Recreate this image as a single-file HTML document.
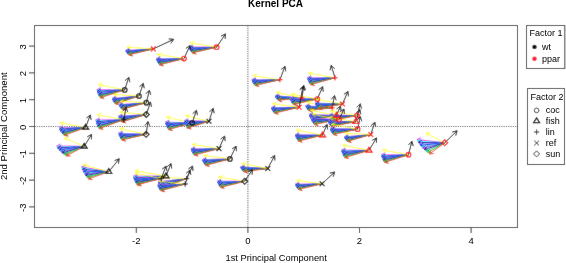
<!DOCTYPE html>
<html><head><meta charset="utf-8"><style>
html,body{margin:0;padding:0;background:#fff;}
svg{display:block;}
.t{font-family:"Liberation Sans",sans-serif;font-size:9px;fill:#000;}
.tk{font-family:"Liberation Sans",sans-serif;font-size:9.5px;fill:#000;}
.xl{font-family:"Liberation Sans",sans-serif;font-size:9.3px;fill:#000;}
.yl{font-family:"Liberation Sans",sans-serif;font-size:9.6px;fill:#000;}
.b{font-family:"Liberation Sans",sans-serif;font-size:10px;font-weight:bold;fill:#000;}
</style></head><body>
<svg width="566" height="263" viewBox="0 0 566 263"><defs><filter id="bl" x="0" y="0" width="566" height="263" filterUnits="userSpaceOnUse" primitiveUnits="userSpaceOnUse"><feConvolveMatrix order="3" kernelMatrix="1 2 1 2 36 2 1 2 1" preserveAlpha="false" edgeMode="none"/></filter><filter id="gs" x="0" y="0" width="566" height="263" filterUnits="userSpaceOnUse"><feOffset dx="0" dy="0"/></filter></defs><g filter="url(#bl)"><rect width="566" height="263" fill="#fff"/>
<path d="M34.5 126.5H517M247.9 25.5V227.5" stroke="#222" stroke-width="0.9" stroke-dasharray="1 1.3" fill="none"/>
<path d="M153.3 48.9L125.60 50.47M129.44 52.41L125.60 50.47L129.20 48.11" stroke="#ff00ff" stroke-width="0.85" fill="none"/>
<path d="M153.3 48.9L125.71 50.91M129.58 52.79L125.71 50.91L129.26 48.50" stroke="#00ffff" stroke-width="0.85" fill="none"/>
<path d="M153.3 48.9L125.90 51.36M129.80 53.16L125.90 51.36L129.41 48.88" stroke="#000080" stroke-width="0.85" fill="none"/>
<path d="M153.3 48.9L126.15 51.80M130.08 53.54L126.15 51.80L129.62 49.27" stroke="#9f7fff" stroke-width="0.85" fill="none"/>
<path d="M153.3 48.9L126.44 52.24M130.40 53.92L126.44 52.24L129.87 49.65" stroke="#0000ff" stroke-width="0.85" fill="none"/>
<path d="M153.3 48.9L126.78 52.69M130.77 54.29L126.78 52.69L130.16 50.03" stroke="#00cdcd" stroke-width="0.85" fill="none"/>
<path d="M153.3 48.9L127.14 53.13M131.16 54.66L127.14 53.13L130.48 50.41" stroke="#a020f0" stroke-width="0.85" fill="none"/>
<path d="M153.3 48.9L127.55 53.57M131.59 55.02L127.55 53.57L130.83 50.79" stroke="#00008b" stroke-width="0.85" fill="none"/>
<path d="M153.3 48.9L127.98 54.01M132.05 55.38L127.98 54.01L131.20 51.17" stroke="#20b2aa" stroke-width="0.85" fill="none"/>
<path d="M153.3 48.9L128.44 54.46M132.54 55.74L128.44 54.46L131.60 51.55" stroke="#00cd00" stroke-width="0.85" fill="none"/>
<path d="M153.3 48.9L128.92 54.90M133.05 56.10L128.92 54.90L132.03 51.92" stroke="#ff3030" stroke-width="0.85" fill="none"/>
<path d="M153.3 48.9L126.98 47.10M130.55 49.32L126.98 47.10L130.82 45.39" stroke="#ffff00" stroke-width="0.75" fill="none"/>
<path d="M184.0 58.6L156.20 58.62M159.93 60.77L156.20 58.62L159.92 56.47" stroke="#ff00ff" stroke-width="0.85" fill="none"/>
<path d="M184.0 58.6L156.31 59.25M160.08 61.31L156.31 59.25L159.98 57.01" stroke="#00ffff" stroke-width="0.85" fill="none"/>
<path d="M184.0 58.6L156.50 59.88M160.32 61.85L156.50 59.88L160.12 57.56" stroke="#000080" stroke-width="0.85" fill="none"/>
<path d="M184.0 58.6L156.75 60.51M160.61 62.39L156.75 60.51L160.31 58.10" stroke="#9f7fff" stroke-width="0.85" fill="none"/>
<path d="M184.0 58.6L157.04 61.13M160.95 62.93L157.04 61.13L160.55 58.64" stroke="#0000ff" stroke-width="0.85" fill="none"/>
<path d="M184.0 58.6L157.38 61.76M161.33 63.46L157.38 61.76L160.82 59.19" stroke="#00cdcd" stroke-width="0.85" fill="none"/>
<path d="M184.0 58.6L157.75 62.39M161.74 63.98L157.75 62.39L161.13 59.73" stroke="#a020f0" stroke-width="0.85" fill="none"/>
<path d="M184.0 58.6L158.15 63.02M162.19 64.51L158.15 63.02L161.46 60.27" stroke="#00008b" stroke-width="0.85" fill="none"/>
<path d="M184.0 58.6L158.59 63.64M162.66 65.03L158.59 63.64L161.82 60.81" stroke="#20b2aa" stroke-width="0.85" fill="none"/>
<path d="M184.0 58.6L159.05 64.27M163.16 65.54L159.05 64.27L162.20 61.35" stroke="#00cd00" stroke-width="0.85" fill="none"/>
<path d="M184.0 58.6L159.54 64.90M163.68 66.05L159.54 64.90L162.61 61.89" stroke="#ff3030" stroke-width="0.85" fill="none"/>
<path d="M184.0 58.6L157.59 54.30M160.93 56.84L157.59 54.30L161.57 52.95" stroke="#ffff00" stroke-width="0.75" fill="none"/>
<path d="M216.6 47.2L189.00 47.05M192.71 49.22L189.00 47.05L192.74 44.92" stroke="#ff00ff" stroke-width="0.85" fill="none"/>
<path d="M216.6 47.2L189.10 47.65M192.86 49.74L189.10 47.65L192.79 45.44" stroke="#00ffff" stroke-width="0.85" fill="none"/>
<path d="M216.6 47.2L189.30 48.24M193.10 50.25L189.30 48.24L192.94 45.95" stroke="#000080" stroke-width="0.85" fill="none"/>
<path d="M216.6 47.2L189.54 48.84M193.39 50.76L189.54 48.84L193.13 46.47" stroke="#9f7fff" stroke-width="0.85" fill="none"/>
<path d="M216.6 47.2L189.84 49.43M193.73 51.26L189.84 49.43L193.37 46.98" stroke="#0000ff" stroke-width="0.85" fill="none"/>
<path d="M216.6 47.2L190.17 50.03M194.10 51.77L190.17 50.03L193.65 47.49" stroke="#00cdcd" stroke-width="0.85" fill="none"/>
<path d="M216.6 47.2L190.54 50.62M194.51 52.27L190.54 50.62L193.95 48.00" stroke="#a020f0" stroke-width="0.85" fill="none"/>
<path d="M216.6 47.2L190.94 51.22M194.95 52.76L190.94 51.22L194.29 48.52" stroke="#00008b" stroke-width="0.85" fill="none"/>
<path d="M216.6 47.2L191.37 51.81M195.42 53.26L191.37 51.81L194.65 49.03" stroke="#20b2aa" stroke-width="0.85" fill="none"/>
<path d="M216.6 47.2L191.83 52.41M195.91 53.74L191.83 52.41L195.03 49.54" stroke="#00cd00" stroke-width="0.85" fill="none"/>
<path d="M216.6 47.2L192.31 53.00M196.43 54.23L192.31 53.00L195.43 50.04" stroke="#ff3030" stroke-width="0.85" fill="none"/>
<path d="M216.6 47.2L190.38 42.90M193.72 45.45L190.38 42.90L194.36 41.55" stroke="#ffff00" stroke-width="0.75" fill="none"/>
<path d="M279.9 79.7L251.80 79.68M255.52 81.84L251.80 79.68L255.53 77.54" stroke="#ff00ff" stroke-width="0.85" fill="none"/>
<path d="M279.9 79.7L251.91 80.27M255.67 82.34L251.91 80.27L255.59 78.04" stroke="#00ffff" stroke-width="0.85" fill="none"/>
<path d="M279.9 79.7L252.10 80.85M255.91 82.84L252.10 80.85L255.73 78.55" stroke="#000080" stroke-width="0.85" fill="none"/>
<path d="M279.9 79.7L252.35 81.43M256.21 83.34L252.35 81.43L255.94 79.05" stroke="#9f7fff" stroke-width="0.85" fill="none"/>
<path d="M279.9 79.7L252.65 82.01M256.55 83.84L252.65 82.01L256.18 79.55" stroke="#0000ff" stroke-width="0.85" fill="none"/>
<path d="M279.9 79.7L252.99 82.59M256.92 84.33L252.99 82.59L256.47 80.06" stroke="#00cdcd" stroke-width="0.85" fill="none"/>
<path d="M279.9 79.7L253.37 83.17M257.34 84.82L253.37 83.17L256.78 80.56" stroke="#a020f0" stroke-width="0.85" fill="none"/>
<path d="M279.9 79.7L253.77 83.76M257.78 85.31L253.77 83.76L257.12 81.06" stroke="#00008b" stroke-width="0.85" fill="none"/>
<path d="M279.9 79.7L254.21 84.34M258.26 85.79L254.21 84.34L257.50 81.56" stroke="#20b2aa" stroke-width="0.85" fill="none"/>
<path d="M279.9 79.7L254.68 84.92M258.76 86.27L254.68 84.92L257.89 82.06" stroke="#00cd00" stroke-width="0.85" fill="none"/>
<path d="M279.9 79.7L255.17 85.50M259.29 86.74L255.17 85.50L258.31 82.56" stroke="#ff3030" stroke-width="0.85" fill="none"/>
<path d="M279.9 79.7L253.21 75.60M256.57 78.11L253.21 75.60L257.17 74.21" stroke="#ffff00" stroke-width="0.75" fill="none"/>
<path d="M335.0 77.8L307.30 77.83M311.03 79.97L307.30 77.83L311.02 75.67" stroke="#ff00ff" stroke-width="0.85" fill="none"/>
<path d="M335.0 77.8L307.41 78.52M311.18 80.57L307.41 78.52L311.07 76.27" stroke="#00ffff" stroke-width="0.85" fill="none"/>
<path d="M335.0 77.8L307.60 79.20M311.43 81.16L307.60 79.20L311.21 76.86" stroke="#000080" stroke-width="0.85" fill="none"/>
<path d="M335.0 77.8L307.85 79.89M311.72 81.75L307.85 79.89L311.39 77.46" stroke="#9f7fff" stroke-width="0.85" fill="none"/>
<path d="M335.0 77.8L308.14 80.58M312.07 82.33L308.14 80.58L311.62 78.06" stroke="#0000ff" stroke-width="0.85" fill="none"/>
<path d="M335.0 77.8L308.48 81.26M312.45 82.91L308.48 81.26L311.89 78.65" stroke="#00cdcd" stroke-width="0.85" fill="none"/>
<path d="M335.0 77.8L308.84 81.95M312.86 83.49L308.84 81.95L312.19 79.24" stroke="#a020f0" stroke-width="0.85" fill="none"/>
<path d="M335.0 77.8L309.25 82.64M313.30 84.06L309.25 82.64L312.51 79.84" stroke="#00008b" stroke-width="0.85" fill="none"/>
<path d="M335.0 77.8L309.68 83.33M313.78 84.63L309.68 83.33L312.86 80.43" stroke="#20b2aa" stroke-width="0.85" fill="none"/>
<path d="M335.0 77.8L310.14 84.01M314.27 85.20L310.14 84.01L313.23 81.02" stroke="#00cd00" stroke-width="0.85" fill="none"/>
<path d="M335.0 77.8L310.62 84.70M314.79 85.75L310.62 84.70L313.62 81.62" stroke="#ff3030" stroke-width="0.85" fill="none"/>
<path d="M335.0 77.8L308.69 73.20M312.00 75.78L308.69 73.20L312.68 71.90" stroke="#ffff00" stroke-width="0.75" fill="none"/>
<path d="M302.0 98.0L275.00 95.74M278.53 98.19L275.00 95.74L278.89 93.91" stroke="#ff00ff" stroke-width="0.85" fill="none"/>
<path d="M302.0 98.0L275.10 96.19M278.67 98.59L275.10 96.19L278.96 94.30" stroke="#00ffff" stroke-width="0.85" fill="none"/>
<path d="M302.0 98.0L275.29 96.65M278.90 98.99L275.29 96.65L279.12 94.69" stroke="#000080" stroke-width="0.85" fill="none"/>
<path d="M302.0 98.0L275.53 97.11M279.18 99.38L275.53 97.11L279.33 95.08" stroke="#9f7fff" stroke-width="0.85" fill="none"/>
<path d="M302.0 98.0L275.82 97.56M279.51 99.77L275.82 97.56L279.58 95.48" stroke="#0000ff" stroke-width="0.85" fill="none"/>
<path d="M302.0 98.0L276.15 98.02M279.87 100.17L276.15 98.02L279.87 95.87" stroke="#00cdcd" stroke-width="0.85" fill="none"/>
<path d="M302.0 98.0L276.51 98.48M280.27 100.56L276.51 98.48L280.19 96.26" stroke="#a020f0" stroke-width="0.85" fill="none"/>
<path d="M302.0 98.0L276.90 98.93M280.70 100.94L276.90 98.93L280.54 96.64" stroke="#00008b" stroke-width="0.85" fill="none"/>
<path d="M302.0 98.0L277.32 99.39M281.16 101.33L277.32 99.39L280.92 97.03" stroke="#20b2aa" stroke-width="0.85" fill="none"/>
<path d="M302.0 98.0L277.77 99.84M281.64 101.71L277.77 99.84L281.32 97.42" stroke="#00cd00" stroke-width="0.85" fill="none"/>
<path d="M302.0 98.0L278.24 100.30M282.15 102.08L278.24 100.30L281.74 97.80" stroke="#ff3030" stroke-width="0.85" fill="none"/>
<path d="M302.0 98.0L276.35 92.30M279.54 95.03L276.35 92.30L280.40 91.18" stroke="#ffff00" stroke-width="0.75" fill="none"/>
<path d="M299.2 107.2L271.20 107.65M274.96 109.74L271.20 107.65L274.89 105.44" stroke="#ff00ff" stroke-width="0.85" fill="none"/>
<path d="M299.2 107.2L271.31 108.20M275.11 110.22L271.31 108.20L274.95 105.92" stroke="#00ffff" stroke-width="0.85" fill="none"/>
<path d="M299.2 107.2L271.50 108.76M275.34 110.70L271.50 108.76L275.10 106.40" stroke="#000080" stroke-width="0.85" fill="none"/>
<path d="M299.2 107.2L271.75 109.31M275.63 111.17L271.75 109.31L275.30 106.88" stroke="#9f7fff" stroke-width="0.85" fill="none"/>
<path d="M299.2 107.2L272.05 109.87M275.97 111.64L272.05 109.87L275.55 107.36" stroke="#0000ff" stroke-width="0.85" fill="none"/>
<path d="M299.2 107.2L272.39 110.42M276.34 112.11L272.39 110.42L275.83 107.84" stroke="#00cdcd" stroke-width="0.85" fill="none"/>
<path d="M299.2 107.2L272.76 110.98M276.75 112.58L272.76 110.98L276.14 108.32" stroke="#a020f0" stroke-width="0.85" fill="none"/>
<path d="M299.2 107.2L273.17 111.53M277.19 113.04L273.17 111.53L276.49 108.80" stroke="#00008b" stroke-width="0.85" fill="none"/>
<path d="M299.2 107.2L273.60 112.09M277.67 113.50L273.60 112.09L276.86 109.28" stroke="#20b2aa" stroke-width="0.85" fill="none"/>
<path d="M299.2 107.2L274.07 112.64M278.16 113.96L274.07 112.64L277.25 109.76" stroke="#00cd00" stroke-width="0.85" fill="none"/>
<path d="M299.2 107.2L274.56 113.20M278.69 114.41L274.56 113.20L277.67 110.23" stroke="#ff3030" stroke-width="0.85" fill="none"/>
<path d="M299.2 107.2L272.60 103.70M276.02 106.14L272.60 103.70L276.53 102.23" stroke="#ffff00" stroke-width="0.75" fill="none"/>
<path d="M317.3 99.0L290.00 98.42M293.68 100.65L290.00 98.42L293.77 96.35" stroke="#ff00ff" stroke-width="0.85" fill="none"/>
<path d="M317.3 99.0L290.10 99.03M293.83 101.17L290.10 99.03L293.83 96.87" stroke="#00ffff" stroke-width="0.85" fill="none"/>
<path d="M317.3 99.0L290.29 99.64M294.07 101.70L290.29 99.64L293.97 97.40" stroke="#000080" stroke-width="0.85" fill="none"/>
<path d="M317.3 99.0L290.54 100.24M294.36 102.22L290.54 100.24L294.16 97.92" stroke="#9f7fff" stroke-width="0.85" fill="none"/>
<path d="M317.3 99.0L290.83 100.85M294.69 102.74L290.83 100.85L294.39 98.45" stroke="#0000ff" stroke-width="0.85" fill="none"/>
<path d="M317.3 99.0L291.16 101.46M295.07 103.25L291.16 101.46L294.66 98.97" stroke="#00cdcd" stroke-width="0.85" fill="none"/>
<path d="M317.3 99.0L291.52 102.07M295.47 103.76L291.52 102.07L294.97 99.49" stroke="#a020f0" stroke-width="0.85" fill="none"/>
<path d="M317.3 99.0L291.92 102.68M295.91 104.27L291.92 102.68L295.30 100.01" stroke="#00008b" stroke-width="0.85" fill="none"/>
<path d="M317.3 99.0L292.34 103.28M296.38 104.77L292.34 103.28L295.65 100.53" stroke="#20b2aa" stroke-width="0.85" fill="none"/>
<path d="M317.3 99.0L292.80 103.89M296.87 105.27L292.80 103.89L296.03 101.05" stroke="#00cd00" stroke-width="0.85" fill="none"/>
<path d="M317.3 99.0L293.28 104.50M297.39 105.76L293.28 104.50L296.43 101.57" stroke="#ff3030" stroke-width="0.85" fill="none"/>
<path d="M317.3 99.0L291.37 94.20M294.65 96.81L291.37 94.20L295.37 92.94" stroke="#ffff00" stroke-width="0.75" fill="none"/>
<path d="M332.2 107.8L305.60 105.74M309.15 108.17L305.60 105.74L309.48 103.88" stroke="#ff00ff" stroke-width="0.85" fill="none"/>
<path d="M332.2 107.8L305.70 106.22M309.29 108.58L305.70 106.22L309.55 104.29" stroke="#00ffff" stroke-width="0.85" fill="none"/>
<path d="M332.2 107.8L305.89 106.69M309.52 109.00L305.89 106.69L309.70 104.70" stroke="#000080" stroke-width="0.85" fill="none"/>
<path d="M332.2 107.8L306.12 107.17M309.80 109.41L306.12 107.17L309.90 105.11" stroke="#9f7fff" stroke-width="0.85" fill="none"/>
<path d="M332.2 107.8L306.41 107.64M310.12 109.82L306.41 107.64L310.14 105.52" stroke="#0000ff" stroke-width="0.85" fill="none"/>
<path d="M332.2 107.8L306.73 108.12M310.48 110.22L306.73 108.12L310.43 105.92" stroke="#00cdcd" stroke-width="0.85" fill="none"/>
<path d="M332.2 107.8L307.08 108.60M310.87 110.63L307.08 108.60L310.74 106.33" stroke="#a020f0" stroke-width="0.85" fill="none"/>
<path d="M332.2 107.8L307.47 109.07M311.30 111.03L307.47 109.07L311.08 106.73" stroke="#00008b" stroke-width="0.85" fill="none"/>
<path d="M332.2 107.8L307.88 109.55M311.75 111.43L307.88 109.55L311.44 107.14" stroke="#20b2aa" stroke-width="0.85" fill="none"/>
<path d="M332.2 107.8L308.33 110.02M312.23 111.82L308.33 110.02L311.83 107.54" stroke="#00cd00" stroke-width="0.85" fill="none"/>
<path d="M332.2 107.8L308.79 110.50M312.74 112.21L308.79 110.50L312.25 107.94" stroke="#ff3030" stroke-width="0.85" fill="none"/>
<path d="M332.2 107.8L306.93 102.20M310.12 104.93L306.93 102.20L310.98 101.08" stroke="#ffff00" stroke-width="0.75" fill="none"/>
<path d="M342.5 104.0L315.00 103.08M318.65 105.35L315.00 103.08L318.79 101.06" stroke="#ff00ff" stroke-width="0.85" fill="none"/>
<path d="M342.5 104.0L315.10 103.62M318.80 105.82L315.10 103.62L318.86 101.52" stroke="#00ffff" stroke-width="0.85" fill="none"/>
<path d="M342.5 104.0L315.30 104.16M319.03 106.29L315.30 104.16L319.01 101.99" stroke="#000080" stroke-width="0.85" fill="none"/>
<path d="M342.5 104.0L315.54 104.71M319.32 106.76L315.54 104.71L319.21 102.46" stroke="#9f7fff" stroke-width="0.85" fill="none"/>
<path d="M342.5 104.0L315.83 105.25M319.66 107.22L315.83 105.25L319.45 102.93" stroke="#0000ff" stroke-width="0.85" fill="none"/>
<path d="M342.5 104.0L316.17 105.79M320.03 107.68L316.17 105.79L319.74 103.39" stroke="#00cdcd" stroke-width="0.85" fill="none"/>
<path d="M342.5 104.0L316.53 106.33M320.43 108.14L316.53 106.33L320.05 103.86" stroke="#a020f0" stroke-width="0.85" fill="none"/>
<path d="M342.5 104.0L316.93 106.87M320.87 108.59L316.93 106.87L320.39 104.32" stroke="#00008b" stroke-width="0.85" fill="none"/>
<path d="M342.5 104.0L317.36 107.42M321.34 109.05L317.36 107.42L320.76 104.78" stroke="#20b2aa" stroke-width="0.85" fill="none"/>
<path d="M342.5 104.0L317.82 107.96M321.83 109.49L317.82 107.96L321.15 105.25" stroke="#00cd00" stroke-width="0.85" fill="none"/>
<path d="M342.5 104.0L318.30 108.50M322.35 109.93L318.30 108.50L321.57 105.71" stroke="#ff3030" stroke-width="0.85" fill="none"/>
<path d="M342.5 104.0L316.38 99.20M319.67 101.81L316.38 99.20L320.38 97.93" stroke="#ffff00" stroke-width="0.75" fill="none"/>
<path d="M336.5 115.5L309.00 114.42M312.64 116.71L309.00 114.42L312.81 112.42" stroke="#ff00ff" stroke-width="0.85" fill="none"/>
<path d="M336.5 115.5L309.10 115.03M312.79 117.24L309.10 115.03L312.86 112.94" stroke="#00ffff" stroke-width="0.85" fill="none"/>
<path d="M336.5 115.5L309.30 115.64M313.03 117.77L309.30 115.64L313.01 113.47" stroke="#000080" stroke-width="0.85" fill="none"/>
<path d="M336.5 115.5L309.54 116.24M313.32 118.29L309.54 116.24L313.21 113.99" stroke="#9f7fff" stroke-width="0.85" fill="none"/>
<path d="M336.5 115.5L309.83 116.85M313.66 118.81L309.83 116.85L313.45 114.52" stroke="#0000ff" stroke-width="0.85" fill="none"/>
<path d="M336.5 115.5L310.17 117.46M314.04 119.33L310.17 117.46L313.72 115.04" stroke="#00cdcd" stroke-width="0.85" fill="none"/>
<path d="M336.5 115.5L310.53 118.07M314.45 119.84L310.53 118.07L314.03 115.56" stroke="#a020f0" stroke-width="0.85" fill="none"/>
<path d="M336.5 115.5L310.93 118.68M314.89 120.35L310.93 118.68L314.36 116.08" stroke="#00008b" stroke-width="0.85" fill="none"/>
<path d="M336.5 115.5L311.36 119.28M315.36 120.86L311.36 119.28L314.72 116.60" stroke="#20b2aa" stroke-width="0.85" fill="none"/>
<path d="M336.5 115.5L311.82 119.89M315.86 121.36L311.82 119.89L315.11 117.12" stroke="#00cd00" stroke-width="0.85" fill="none"/>
<path d="M336.5 115.5L312.30 120.50M316.38 121.85L312.30 120.50L315.51 117.64" stroke="#ff3030" stroke-width="0.85" fill="none"/>
<path d="M336.5 115.5L310.38 110.20M313.62 112.87L310.38 110.20L314.40 109.00" stroke="#ffff00" stroke-width="0.75" fill="none"/>
<path d="M339.0 119.5L311.00 118.42M314.64 120.71L311.00 118.42L314.80 116.42" stroke="#ff00ff" stroke-width="0.85" fill="none"/>
<path d="M339.0 119.5L311.11 119.03M314.79 121.24L311.11 119.03L314.87 116.94" stroke="#00ffff" stroke-width="0.85" fill="none"/>
<path d="M339.0 119.5L311.30 119.64M315.03 121.77L311.30 119.64L315.01 117.47" stroke="#000080" stroke-width="0.85" fill="none"/>
<path d="M339.0 119.5L311.55 120.24M315.33 122.29L311.55 120.24L315.22 117.99" stroke="#9f7fff" stroke-width="0.85" fill="none"/>
<path d="M339.0 119.5L311.85 120.85M315.68 122.81L311.85 120.85L315.46 118.52" stroke="#0000ff" stroke-width="0.85" fill="none"/>
<path d="M339.0 119.5L312.19 121.46M316.06 123.33L312.19 121.46L315.75 119.04" stroke="#00cdcd" stroke-width="0.85" fill="none"/>
<path d="M339.0 119.5L312.56 122.07M316.48 123.85L312.56 122.07L316.06 119.57" stroke="#a020f0" stroke-width="0.85" fill="none"/>
<path d="M339.0 119.5L312.97 122.68M316.92 124.36L312.97 122.68L316.40 120.09" stroke="#00008b" stroke-width="0.85" fill="none"/>
<path d="M339.0 119.5L313.40 123.28M317.40 124.87L313.40 123.28L316.77 120.61" stroke="#20b2aa" stroke-width="0.85" fill="none"/>
<path d="M339.0 119.5L313.87 123.89M317.91 125.37L313.87 123.89L317.17 121.13" stroke="#00cd00" stroke-width="0.85" fill="none"/>
<path d="M339.0 119.5L314.36 124.50M318.44 125.87L314.36 124.50L317.58 121.65" stroke="#ff3030" stroke-width="0.85" fill="none"/>
<path d="M339.0 119.5L312.40 114.20M315.65 116.86L312.40 114.20L316.42 112.99" stroke="#ffff00" stroke-width="0.75" fill="none"/>
<path d="M357.0 115.5L329.00 115.08M332.69 117.29L329.00 115.08L332.76 112.99" stroke="#ff00ff" stroke-width="0.85" fill="none"/>
<path d="M357.0 115.5L329.11 115.62M332.84 117.76L329.11 115.62L332.82 113.46" stroke="#00ffff" stroke-width="0.85" fill="none"/>
<path d="M357.0 115.5L329.30 116.16M333.07 118.22L329.30 116.16L332.97 113.93" stroke="#000080" stroke-width="0.85" fill="none"/>
<path d="M357.0 115.5L329.55 116.71M333.37 118.69L329.55 116.71L333.18 114.39" stroke="#9f7fff" stroke-width="0.85" fill="none"/>
<path d="M357.0 115.5L329.85 117.25M333.70 119.15L329.85 117.25L333.43 114.86" stroke="#0000ff" stroke-width="0.85" fill="none"/>
<path d="M357.0 115.5L330.19 117.79M334.08 119.62L330.19 117.79L333.72 115.33" stroke="#00cdcd" stroke-width="0.85" fill="none"/>
<path d="M357.0 115.5L330.56 118.33M334.49 120.07L330.56 118.33L334.04 115.80" stroke="#a020f0" stroke-width="0.85" fill="none"/>
<path d="M357.0 115.5L330.97 118.87M334.94 120.53L330.97 118.87L334.38 116.26" stroke="#00008b" stroke-width="0.85" fill="none"/>
<path d="M357.0 115.5L331.40 119.42M335.41 120.98L331.40 119.42L334.76 116.73" stroke="#20b2aa" stroke-width="0.85" fill="none"/>
<path d="M357.0 115.5L331.87 119.96M335.91 121.42L331.87 119.96L335.16 117.19" stroke="#00cd00" stroke-width="0.85" fill="none"/>
<path d="M357.0 115.5L332.36 120.50M336.44 121.87L332.36 120.50L335.58 117.65" stroke="#ff3030" stroke-width="0.85" fill="none"/>
<path d="M357.0 115.5L330.40 111.20M333.75 113.74L330.40 111.20L334.38 109.85" stroke="#ffff00" stroke-width="0.75" fill="none"/>
<path d="M355.6 121.7L328.00 121.08M331.67 123.31L328.00 121.08L331.77 119.01" stroke="#ff00ff" stroke-width="0.85" fill="none"/>
<path d="M355.6 121.7L328.10 121.62M331.82 123.78L328.10 121.62L331.83 119.48" stroke="#00ffff" stroke-width="0.85" fill="none"/>
<path d="M355.6 121.7L328.30 122.16M332.06 124.25L328.30 122.16L331.98 119.95" stroke="#000080" stroke-width="0.85" fill="none"/>
<path d="M355.6 121.7L328.54 122.71M332.35 124.72L328.54 122.71L332.19 120.42" stroke="#9f7fff" stroke-width="0.85" fill="none"/>
<path d="M355.6 121.7L328.84 123.25M332.68 125.18L328.84 123.25L332.43 120.89" stroke="#0000ff" stroke-width="0.85" fill="none"/>
<path d="M355.6 121.7L329.17 123.79M333.05 125.64L329.17 123.79L332.71 121.35" stroke="#00cdcd" stroke-width="0.85" fill="none"/>
<path d="M355.6 121.7L329.54 124.33M333.46 126.10L329.54 124.33L333.03 121.82" stroke="#a020f0" stroke-width="0.85" fill="none"/>
<path d="M355.6 121.7L329.94 124.87M333.90 126.55L329.94 124.87L333.37 122.28" stroke="#00008b" stroke-width="0.85" fill="none"/>
<path d="M355.6 121.7L330.37 125.42M334.37 127.00L330.37 125.42L333.74 122.75" stroke="#20b2aa" stroke-width="0.85" fill="none"/>
<path d="M355.6 121.7L330.83 125.96M334.86 127.45L330.83 125.96L334.13 123.21" stroke="#00cd00" stroke-width="0.85" fill="none"/>
<path d="M355.6 121.7L331.31 126.50M335.38 127.89L331.31 126.50L334.55 123.67" stroke="#ff3030" stroke-width="0.85" fill="none"/>
<path d="M355.6 121.7L329.38 117.20M332.70 119.77L329.38 117.20L333.37 115.88" stroke="#ffff00" stroke-width="0.75" fill="none"/>
<path d="M357.6 129.2L330.00 128.42M333.66 130.67L330.00 128.42L333.78 126.38" stroke="#ff00ff" stroke-width="0.85" fill="none"/>
<path d="M357.6 129.2L330.10 129.03M333.82 131.20L330.10 129.03L333.84 126.90" stroke="#00ffff" stroke-width="0.85" fill="none"/>
<path d="M357.6 129.2L330.30 129.64M334.05 131.73L330.30 129.64L333.99 127.43" stroke="#000080" stroke-width="0.85" fill="none"/>
<path d="M357.6 129.2L330.54 130.24M334.35 132.25L330.54 130.24L334.18 127.95" stroke="#9f7fff" stroke-width="0.85" fill="none"/>
<path d="M357.6 129.2L330.84 130.85M334.69 132.77L330.84 130.85L334.42 128.48" stroke="#0000ff" stroke-width="0.85" fill="none"/>
<path d="M357.6 129.2L331.17 131.46M335.06 133.28L331.17 131.46L334.70 129.00" stroke="#00cdcd" stroke-width="0.85" fill="none"/>
<path d="M357.6 129.2L331.54 132.07M335.48 133.80L331.54 132.07L335.01 129.52" stroke="#a020f0" stroke-width="0.85" fill="none"/>
<path d="M357.6 129.2L331.94 132.68M335.92 134.31L331.94 132.68L335.34 130.05" stroke="#00008b" stroke-width="0.85" fill="none"/>
<path d="M357.6 129.2L332.37 133.28M336.39 134.81L332.37 133.28L335.70 130.57" stroke="#20b2aa" stroke-width="0.85" fill="none"/>
<path d="M357.6 129.2L332.83 133.89M336.89 135.31L332.83 133.89L336.09 131.09" stroke="#00cd00" stroke-width="0.85" fill="none"/>
<path d="M357.6 129.2L333.31 134.50M337.41 135.81L333.31 134.50L336.49 131.61" stroke="#ff3030" stroke-width="0.85" fill="none"/>
<path d="M357.6 129.2L331.38 124.20M334.65 126.83L331.38 124.20L335.39 122.96" stroke="#ffff00" stroke-width="0.75" fill="none"/>
<path d="M322.5 135.1L295.10 134.66M298.79 136.87L295.10 134.66L298.86 132.57" stroke="#ff00ff" stroke-width="0.85" fill="none"/>
<path d="M322.5 135.1L295.20 135.31M298.94 137.43L295.20 135.31L298.91 133.13" stroke="#00ffff" stroke-width="0.85" fill="none"/>
<path d="M322.5 135.1L295.39 135.97M299.18 138.00L295.39 135.97L299.05 133.70" stroke="#000080" stroke-width="0.85" fill="none"/>
<path d="M322.5 135.1L295.64 136.62M299.48 138.56L295.64 136.62L299.24 134.26" stroke="#9f7fff" stroke-width="0.85" fill="none"/>
<path d="M322.5 135.1L295.93 137.27M299.82 139.11L295.93 137.27L299.47 134.83" stroke="#0000ff" stroke-width="0.85" fill="none"/>
<path d="M322.5 135.1L296.26 137.93M300.20 139.67L296.26 137.93L299.73 135.39" stroke="#00cdcd" stroke-width="0.85" fill="none"/>
<path d="M322.5 135.1L296.63 138.58M300.61 140.22L296.63 138.58L300.03 135.96" stroke="#a020f0" stroke-width="0.85" fill="none"/>
<path d="M322.5 135.1L297.03 139.24M301.05 140.76L297.03 139.24L300.36 136.52" stroke="#00008b" stroke-width="0.85" fill="none"/>
<path d="M322.5 135.1L297.45 139.89M301.51 141.30L297.45 139.89L300.71 137.08" stroke="#20b2aa" stroke-width="0.85" fill="none"/>
<path d="M322.5 135.1L297.91 140.55M302.01 141.84L297.91 140.55L301.08 137.64" stroke="#00cd00" stroke-width="0.85" fill="none"/>
<path d="M322.5 135.1L298.39 141.20M302.53 142.37L298.39 141.20L301.47 138.20" stroke="#ff3030" stroke-width="0.85" fill="none"/>
<path d="M322.5 135.1L296.47 130.20M299.75 132.82L296.47 130.20L300.48 128.95" stroke="#ffff00" stroke-width="0.75" fill="none"/>
<path d="M370.8 134.5L344.30 136.87M348.20 138.68L344.30 136.87L347.82 134.40" stroke="#ff00ff" stroke-width="0.85" fill="none"/>
<path d="M370.8 134.5L344.40 137.33M348.33 139.07L344.40 137.33L347.87 134.80" stroke="#00ffff" stroke-width="0.85" fill="none"/>
<path d="M370.8 134.5L344.58 137.80M348.55 139.47L344.58 137.80L348.01 135.20" stroke="#000080" stroke-width="0.85" fill="none"/>
<path d="M370.8 134.5L344.82 138.26M348.82 139.85L344.82 138.26L348.20 135.60" stroke="#9f7fff" stroke-width="0.85" fill="none"/>
<path d="M370.8 134.5L345.10 138.72M349.13 140.24L345.10 138.72L348.43 136.00" stroke="#0000ff" stroke-width="0.85" fill="none"/>
<path d="M370.8 134.5L345.42 139.19M349.48 140.62L345.42 139.19L348.70 136.40" stroke="#00cdcd" stroke-width="0.85" fill="none"/>
<path d="M370.8 134.5L345.78 139.65M349.86 141.00L345.78 139.65L348.99 136.79" stroke="#a020f0" stroke-width="0.85" fill="none"/>
<path d="M370.8 134.5L346.16 140.11M350.27 141.38L346.16 140.11L349.32 137.19" stroke="#00008b" stroke-width="0.85" fill="none"/>
<path d="M370.8 134.5L346.58 140.57M350.71 141.75L346.58 140.57L349.66 137.58" stroke="#20b2aa" stroke-width="0.85" fill="none"/>
<path d="M370.8 134.5L347.02 141.04M351.18 142.12L347.02 141.04L350.04 137.98" stroke="#00cd00" stroke-width="0.85" fill="none"/>
<path d="M370.8 134.5L347.48 141.50M351.66 142.49L347.48 141.50L350.43 138.37" stroke="#ff3030" stroke-width="0.85" fill="none"/>
<path d="M370.8 134.5L345.62 133.40M349.24 135.53L345.62 133.40L349.42 131.59" stroke="#ffff00" stroke-width="0.75" fill="none"/>
<path d="M369.0 150.3L341.40 150.17M345.11 152.34L341.40 150.17L345.13 148.04" stroke="#ff00ff" stroke-width="0.85" fill="none"/>
<path d="M369.0 150.3L341.50 150.92M345.28 152.99L341.50 150.92L345.18 148.69" stroke="#00ffff" stroke-width="0.85" fill="none"/>
<path d="M369.0 150.3L341.70 151.67M345.52 153.63L341.70 151.67L345.31 149.34" stroke="#000080" stroke-width="0.85" fill="none"/>
<path d="M369.0 150.3L341.94 152.43M345.83 154.28L341.94 152.43L345.49 149.99" stroke="#9f7fff" stroke-width="0.85" fill="none"/>
<path d="M369.0 150.3L342.24 153.18M346.17 154.92L342.24 153.18L345.71 150.64" stroke="#0000ff" stroke-width="0.85" fill="none"/>
<path d="M369.0 150.3L342.57 153.93M346.55 155.56L342.57 153.93L345.97 151.30" stroke="#00cdcd" stroke-width="0.85" fill="none"/>
<path d="M369.0 150.3L342.94 154.69M346.97 156.19L342.94 154.69L346.25 151.95" stroke="#a020f0" stroke-width="0.85" fill="none"/>
<path d="M369.0 150.3L343.34 155.44M347.41 156.82L343.34 155.44L346.57 152.60" stroke="#00008b" stroke-width="0.85" fill="none"/>
<path d="M369.0 150.3L343.77 156.19M347.89 157.44L343.77 156.19L346.91 153.25" stroke="#20b2aa" stroke-width="0.85" fill="none"/>
<path d="M369.0 150.3L344.23 156.95M348.38 158.06L344.23 156.95L347.27 153.91" stroke="#00cd00" stroke-width="0.85" fill="none"/>
<path d="M369.0 150.3L344.71 157.70M348.90 158.67L344.71 157.70L347.65 154.56" stroke="#ff3030" stroke-width="0.85" fill="none"/>
<path d="M369.0 150.3L342.78 145.20M346.04 147.84L342.78 145.20L346.80 143.97" stroke="#ffff00" stroke-width="0.75" fill="none"/>
<path d="M408.5 154.7L381.30 154.97M385.04 157.08L381.30 154.97L385.00 152.78" stroke="#ff00ff" stroke-width="0.85" fill="none"/>
<path d="M408.5 154.7L381.40 155.72M385.21 157.73L381.40 155.72L385.04 153.43" stroke="#00ffff" stroke-width="0.85" fill="none"/>
<path d="M408.5 154.7L381.59 156.47M385.45 158.37L381.59 156.47L385.17 154.08" stroke="#000080" stroke-width="0.85" fill="none"/>
<path d="M408.5 154.7L381.84 157.23M385.75 159.02L381.84 157.23L385.34 154.74" stroke="#9f7fff" stroke-width="0.85" fill="none"/>
<path d="M408.5 154.7L382.13 157.98M386.09 159.65L382.13 157.98L385.56 155.39" stroke="#0000ff" stroke-width="0.85" fill="none"/>
<path d="M408.5 154.7L382.45 158.73M386.46 160.29L382.45 158.73L385.80 156.04" stroke="#00cdcd" stroke-width="0.85" fill="none"/>
<path d="M408.5 154.7L382.82 159.49M386.87 160.92L382.82 159.49L386.08 156.69" stroke="#a020f0" stroke-width="0.85" fill="none"/>
<path d="M408.5 154.7L383.21 160.24M387.31 161.54L383.21 160.24L386.39 157.34" stroke="#00008b" stroke-width="0.85" fill="none"/>
<path d="M408.5 154.7L383.64 160.99M387.77 162.16L383.64 160.99L386.72 158.00" stroke="#20b2aa" stroke-width="0.85" fill="none"/>
<path d="M408.5 154.7L384.09 161.75M388.26 162.78L384.09 161.75L387.07 158.65" stroke="#00cd00" stroke-width="0.85" fill="none"/>
<path d="M408.5 154.7L384.56 162.50M388.77 163.39L384.56 162.50L387.44 159.30" stroke="#ff3030" stroke-width="0.85" fill="none"/>
<path d="M408.5 154.7L382.66 150.00M385.96 152.60L382.66 150.00L386.66 148.72" stroke="#ffff00" stroke-width="0.75" fill="none"/>
<path d="M444.7 142.8L417.00 139.50M420.44 142.08L417.00 139.50L420.95 137.81" stroke="#ff00ff" stroke-width="0.85" fill="none"/>
<path d="M444.7 142.8L417.39 140.95M420.96 143.35L417.39 140.95L421.25 139.06" stroke="#00ffff" stroke-width="0.85" fill="none"/>
<path d="M444.7 142.8L418.11 142.40M421.81 144.61L418.11 142.40L421.87 140.31" stroke="#000080" stroke-width="0.85" fill="none"/>
<path d="M444.7 142.8L419.05 143.85M422.86 145.85L419.05 143.85L422.68 141.55" stroke="#9f7fff" stroke-width="0.85" fill="none"/>
<path d="M444.7 142.8L420.15 145.30M424.08 147.06L420.15 145.30L423.64 142.78" stroke="#0000ff" stroke-width="0.85" fill="none"/>
<path d="M444.7 142.8L421.41 146.75M425.44 148.25L421.41 146.75L424.72 144.01" stroke="#00cdcd" stroke-width="0.85" fill="none"/>
<path d="M444.7 142.8L422.79 148.20M426.92 149.40L422.79 148.20L425.89 145.22" stroke="#a020f0" stroke-width="0.85" fill="none"/>
<path d="M444.7 142.8L424.30 149.65M428.51 150.50L424.30 149.65L427.15 146.43" stroke="#00008b" stroke-width="0.85" fill="none"/>
<path d="M444.7 142.8L425.92 151.10M430.19 151.56L425.92 151.10L428.46 147.63" stroke="#20b2aa" stroke-width="0.85" fill="none"/>
<path d="M444.7 142.8L427.64 152.55M431.94 152.57L427.64 152.55L429.81 148.84" stroke="#00cd00" stroke-width="0.85" fill="none"/>
<path d="M444.7 142.8L429.46 154.00M433.74 153.53L429.46 154.00L431.19 150.06" stroke="#ff3030" stroke-width="0.85" fill="none"/>
<path d="M444.7 142.8L426.00 133.00M428.37 136.47L426.00 133.00L430.20 132.97" stroke="#ffff00" stroke-width="0.75" fill="none"/>
<path d="M124.7 89.9L96.80 89.81M100.52 91.97L96.80 89.81L100.53 87.67" stroke="#ff00ff" stroke-width="0.85" fill="none"/>
<path d="M124.7 89.9L96.91 90.61M100.68 92.66L96.91 90.61L100.57 88.36" stroke="#00ffff" stroke-width="0.85" fill="none"/>
<path d="M124.7 89.9L97.10 91.40M100.93 93.35L97.10 91.40L100.70 89.06" stroke="#000080" stroke-width="0.85" fill="none"/>
<path d="M124.7 89.9L97.35 92.20M101.24 94.03L97.35 92.20L100.88 89.75" stroke="#9f7fff" stroke-width="0.85" fill="none"/>
<path d="M124.7 89.9L97.65 93.00M101.59 94.72L97.65 93.00L101.10 90.44" stroke="#0000ff" stroke-width="0.85" fill="none"/>
<path d="M124.7 89.9L97.98 93.80M101.98 95.39L97.98 93.80L101.36 91.14" stroke="#00cdcd" stroke-width="0.85" fill="none"/>
<path d="M124.7 89.9L98.36 94.60M102.40 96.06L98.36 94.60L101.64 91.83" stroke="#a020f0" stroke-width="0.85" fill="none"/>
<path d="M124.7 89.9L98.76 95.40M102.85 96.73L98.76 95.40L101.96 92.53" stroke="#00008b" stroke-width="0.85" fill="none"/>
<path d="M124.7 89.9L99.20 96.20M103.33 97.40L99.20 96.20L102.30 93.22" stroke="#20b2aa" stroke-width="0.85" fill="none"/>
<path d="M124.7 89.9L99.66 97.00M103.83 98.05L99.66 97.00L102.65 93.92" stroke="#00cd00" stroke-width="0.85" fill="none"/>
<path d="M124.7 89.9L100.15 97.80M104.35 98.71L100.15 97.80L103.03 94.61" stroke="#ff3030" stroke-width="0.85" fill="none"/>
<path d="M124.7 89.9L98.19 84.60M101.44 87.26L98.19 84.60L102.22 83.39" stroke="#ffff00" stroke-width="0.75" fill="none"/>
<path d="M139.0 96.0L112.10 98.41M116.00 100.22L112.10 98.41L115.62 95.94" stroke="#ff00ff" stroke-width="0.85" fill="none"/>
<path d="M139.0 96.0L112.20 98.96M116.14 100.69L112.20 98.96L115.67 96.42" stroke="#00ffff" stroke-width="0.85" fill="none"/>
<path d="M139.0 96.0L112.39 99.51M116.36 101.16L112.39 99.51L115.80 96.89" stroke="#000080" stroke-width="0.85" fill="none"/>
<path d="M139.0 96.0L112.63 100.06M116.64 101.62L112.63 100.06L115.98 97.37" stroke="#9f7fff" stroke-width="0.85" fill="none"/>
<path d="M139.0 96.0L112.92 100.61M116.96 102.08L112.92 100.61L116.21 97.84" stroke="#0000ff" stroke-width="0.85" fill="none"/>
<path d="M139.0 96.0L113.24 101.16M117.31 102.53L113.24 101.16L116.47 98.32" stroke="#00cdcd" stroke-width="0.85" fill="none"/>
<path d="M139.0 96.0L113.60 101.71M117.70 102.99L113.60 101.71L116.76 98.79" stroke="#a020f0" stroke-width="0.85" fill="none"/>
<path d="M139.0 96.0L113.99 102.25M118.12 103.44L113.99 102.25L117.08 99.27" stroke="#00008b" stroke-width="0.85" fill="none"/>
<path d="M139.0 96.0L114.41 102.80M118.57 103.88L114.41 102.80L117.43 99.74" stroke="#20b2aa" stroke-width="0.85" fill="none"/>
<path d="M139.0 96.0L114.86 103.35M119.04 104.32L114.86 103.35L117.79 100.21" stroke="#00cd00" stroke-width="0.85" fill="none"/>
<path d="M139.0 96.0L115.33 103.90M119.54 104.76L115.33 103.90L118.18 100.68" stroke="#ff3030" stroke-width="0.85" fill="none"/>
<path d="M139.0 96.0L113.44 94.50M117.03 96.69L113.44 94.50L117.26 92.75" stroke="#ffff00" stroke-width="0.75" fill="none"/>
<path d="M146.3 102.7L118.90 104.67M122.77 106.55L118.90 104.67L122.46 102.26" stroke="#ff00ff" stroke-width="0.85" fill="none"/>
<path d="M146.3 102.7L119.00 105.13M122.90 106.95L119.00 105.13L122.52 102.66" stroke="#00ffff" stroke-width="0.85" fill="none"/>
<path d="M146.3 102.7L119.19 105.60M123.13 107.34L119.19 105.60L122.67 103.06" stroke="#000080" stroke-width="0.85" fill="none"/>
<path d="M146.3 102.7L119.44 106.06M123.40 107.73L119.44 106.06L122.87 103.46" stroke="#9f7fff" stroke-width="0.85" fill="none"/>
<path d="M146.3 102.7L119.73 106.52M123.72 108.12L119.73 106.52L123.11 103.86" stroke="#0000ff" stroke-width="0.85" fill="none"/>
<path d="M146.3 102.7L120.06 106.99M124.08 108.51L120.06 106.99L123.39 104.26" stroke="#00cdcd" stroke-width="0.85" fill="none"/>
<path d="M146.3 102.7L120.43 107.45M124.48 108.89L120.43 107.45L123.70 104.66" stroke="#a020f0" stroke-width="0.85" fill="none"/>
<path d="M146.3 102.7L120.83 107.91M124.90 109.27L120.83 107.91L124.04 105.06" stroke="#00008b" stroke-width="0.85" fill="none"/>
<path d="M146.3 102.7L121.25 108.37M125.36 109.65L121.25 108.37L124.41 105.45" stroke="#20b2aa" stroke-width="0.85" fill="none"/>
<path d="M146.3 102.7L121.71 108.84M125.84 110.02L121.71 108.84L124.80 105.85" stroke="#00cd00" stroke-width="0.85" fill="none"/>
<path d="M146.3 102.7L122.19 109.30M126.35 110.39L122.19 109.30L125.21 106.24" stroke="#ff3030" stroke-width="0.85" fill="none"/>
<path d="M146.3 102.7L120.27 101.20M123.86 103.38L120.27 101.20L124.09 99.44" stroke="#ffff00" stroke-width="0.75" fill="none"/>
<path d="M146.3 114.5L118.50 116.25M122.35 118.16L118.50 116.25L122.08 113.87" stroke="#ff00ff" stroke-width="0.85" fill="none"/>
<path d="M146.3 114.5L118.61 116.83M122.50 118.66L118.61 116.83L122.14 114.37" stroke="#00ffff" stroke-width="0.85" fill="none"/>
<path d="M146.3 114.5L118.80 117.40M122.73 119.15L118.80 117.40L122.28 114.87" stroke="#000080" stroke-width="0.85" fill="none"/>
<path d="M146.3 114.5L119.05 117.97M123.01 119.64L119.05 117.97L122.47 115.37" stroke="#9f7fff" stroke-width="0.85" fill="none"/>
<path d="M146.3 114.5L119.34 118.55M123.35 120.12L119.34 118.55L122.71 115.87" stroke="#0000ff" stroke-width="0.85" fill="none"/>
<path d="M146.3 114.5L119.68 119.12M123.72 120.61L119.68 119.12L122.98 116.37" stroke="#00cdcd" stroke-width="0.85" fill="none"/>
<path d="M146.3 114.5L120.05 119.70M124.12 121.09L120.05 119.70L123.29 116.87" stroke="#a020f0" stroke-width="0.85" fill="none"/>
<path d="M146.3 114.5L120.45 120.28M124.56 121.56L120.45 120.28L123.62 117.36" stroke="#00008b" stroke-width="0.85" fill="none"/>
<path d="M146.3 114.5L120.89 120.85M125.02 122.03L120.89 120.85L123.98 117.86" stroke="#20b2aa" stroke-width="0.85" fill="none"/>
<path d="M146.3 114.5L121.35 121.42M125.51 122.50L121.35 121.42L124.36 118.36" stroke="#00cd00" stroke-width="0.85" fill="none"/>
<path d="M146.3 114.5L121.84 122.00M126.03 122.96L121.84 122.00L124.77 118.85" stroke="#ff3030" stroke-width="0.85" fill="none"/>
<path d="M146.3 114.5L119.89 112.20M123.41 114.49L119.89 112.20L123.76 110.56" stroke="#ffff00" stroke-width="0.75" fill="none"/>
<path d="M123.8 119.7L95.70 120.11M99.46 122.21L95.70 120.11L99.39 117.91" stroke="#ff00ff" stroke-width="0.85" fill="none"/>
<path d="M123.8 119.7L95.81 120.97M99.62 122.95L95.81 120.97L99.43 118.65" stroke="#00ffff" stroke-width="0.85" fill="none"/>
<path d="M123.8 119.7L96.00 121.83M99.88 123.69L96.00 121.83L99.55 119.40" stroke="#000080" stroke-width="0.85" fill="none"/>
<path d="M123.8 119.7L96.25 122.69M100.19 124.42L96.25 122.69L99.72 120.15" stroke="#9f7fff" stroke-width="0.85" fill="none"/>
<path d="M123.8 119.7L96.55 123.55M100.54 125.16L96.55 123.55L99.94 120.90" stroke="#0000ff" stroke-width="0.85" fill="none"/>
<path d="M123.8 119.7L96.89 124.41M100.93 125.88L96.89 124.41L100.19 121.65" stroke="#00cdcd" stroke-width="0.85" fill="none"/>
<path d="M123.8 119.7L97.27 125.26M101.35 126.60L97.27 125.26L100.47 122.40" stroke="#a020f0" stroke-width="0.85" fill="none"/>
<path d="M123.8 119.7L97.67 126.12M101.80 127.32L97.67 126.12L100.78 123.15" stroke="#00008b" stroke-width="0.85" fill="none"/>
<path d="M123.8 119.7L98.11 126.98M102.28 128.04L98.11 126.98L101.11 123.90" stroke="#20b2aa" stroke-width="0.85" fill="none"/>
<path d="M123.8 119.7L98.58 127.84M102.78 128.74L98.58 127.84L101.46 124.65" stroke="#00cd00" stroke-width="0.85" fill="none"/>
<path d="M123.8 119.7L99.07 128.70M103.31 129.45L99.07 128.70L101.84 125.41" stroke="#ff3030" stroke-width="0.85" fill="none"/>
<path d="M123.8 119.7L97.11 114.60M100.38 117.23L97.11 114.60L101.12 113.36" stroke="#ffff00" stroke-width="0.75" fill="none"/>
<path d="M146.1 134.3L118.50 133.16M122.13 135.46L118.50 133.16L122.31 131.17" stroke="#ff00ff" stroke-width="0.85" fill="none"/>
<path d="M146.1 134.3L118.60 133.86M122.29 136.07L118.60 133.86L122.36 131.77" stroke="#00ffff" stroke-width="0.85" fill="none"/>
<path d="M146.1 134.3L118.80 134.55M122.54 136.67L118.80 134.55L122.50 132.37" stroke="#000080" stroke-width="0.85" fill="none"/>
<path d="M146.1 134.3L119.04 135.24M122.84 137.26L119.04 135.24L122.69 132.96" stroke="#9f7fff" stroke-width="0.85" fill="none"/>
<path d="M146.1 134.3L119.34 135.94M123.19 137.86L119.34 135.94L122.92 133.56" stroke="#0000ff" stroke-width="0.85" fill="none"/>
<path d="M146.1 134.3L119.67 136.63M123.57 138.45L119.67 136.63L123.19 134.16" stroke="#00cdcd" stroke-width="0.85" fill="none"/>
<path d="M146.1 134.3L120.04 137.32M123.99 139.03L120.04 137.32L123.49 134.76" stroke="#a020f0" stroke-width="0.85" fill="none"/>
<path d="M146.1 134.3L120.44 138.02M124.43 139.61L120.44 138.02L123.82 135.36" stroke="#00008b" stroke-width="0.85" fill="none"/>
<path d="M146.1 134.3L120.87 138.71M124.91 140.19L120.87 138.71L124.17 135.95" stroke="#20b2aa" stroke-width="0.85" fill="none"/>
<path d="M146.1 134.3L121.33 139.41M125.41 140.76L121.33 139.41L124.54 136.55" stroke="#00cd00" stroke-width="0.85" fill="none"/>
<path d="M146.1 134.3L121.81 140.10M125.93 141.33L121.81 140.10L124.93 137.14" stroke="#ff3030" stroke-width="0.85" fill="none"/>
<path d="M146.1 134.3L119.88 128.50M123.07 131.23L119.88 128.50L123.93 127.38" stroke="#ffff00" stroke-width="0.75" fill="none"/>
<path d="M85.6 127.4L59.00 127.90M62.76 129.98L59.00 127.90L62.68 125.68" stroke="#ff00ff" stroke-width="0.85" fill="none"/>
<path d="M85.6 127.4L59.17 128.66M62.99 130.63L59.17 128.66L62.79 126.34" stroke="#00ffff" stroke-width="0.85" fill="none"/>
<path d="M85.6 127.4L59.48 129.42M63.35 131.28L59.48 129.42L63.02 126.99" stroke="#000080" stroke-width="0.85" fill="none"/>
<path d="M85.6 127.4L59.87 130.18M63.81 131.92L59.87 130.18L63.35 127.64" stroke="#9f7fff" stroke-width="0.85" fill="none"/>
<path d="M85.6 127.4L60.35 130.94M64.33 132.55L60.35 130.94L63.74 128.29" stroke="#0000ff" stroke-width="0.85" fill="none"/>
<path d="M85.6 127.4L60.88 131.70M64.92 133.18L60.88 131.70L64.18 128.94" stroke="#00cdcd" stroke-width="0.85" fill="none"/>
<path d="M85.6 127.4L61.47 132.46M65.56 133.80L61.47 132.46L64.68 129.59" stroke="#a020f0" stroke-width="0.85" fill="none"/>
<path d="M85.6 127.4L62.12 133.22M66.25 134.41L62.12 133.22L65.21 130.24" stroke="#00008b" stroke-width="0.85" fill="none"/>
<path d="M85.6 127.4L62.81 133.98M66.98 135.01L62.81 133.98L65.79 130.88" stroke="#20b2aa" stroke-width="0.85" fill="none"/>
<path d="M85.6 127.4L63.54 134.74M67.75 135.60L63.54 134.74L66.40 131.52" stroke="#00cd00" stroke-width="0.85" fill="none"/>
<path d="M85.6 127.4L64.32 135.50M68.57 136.18L64.32 135.50L67.04 132.17" stroke="#ff3030" stroke-width="0.85" fill="none"/>
<path d="M85.6 127.4L60.33 122.90M63.64 125.49L60.33 122.90L64.33 121.61" stroke="#ffff00" stroke-width="0.75" fill="none"/>
<path d="M84.2 146.4L56.70 146.00M60.39 148.20L56.70 146.00L60.45 143.90" stroke="#ff00ff" stroke-width="0.85" fill="none"/>
<path d="M84.2 146.4L57.00 147.00M60.77 149.07L57.00 147.00L60.68 144.77" stroke="#00ffff" stroke-width="0.85" fill="none"/>
<path d="M84.2 146.4L57.56 148.00M61.41 149.92L57.56 148.00L61.15 145.63" stroke="#000080" stroke-width="0.85" fill="none"/>
<path d="M84.2 146.4L58.28 149.00M62.20 150.77L58.28 149.00L61.77 146.49" stroke="#9f7fff" stroke-width="0.85" fill="none"/>
<path d="M84.2 146.4L59.13 150.00M63.13 151.60L59.13 150.00L62.52 147.34" stroke="#0000ff" stroke-width="0.85" fill="none"/>
<path d="M84.2 146.4L60.10 151.00M64.16 152.41L60.10 151.00L63.36 148.19" stroke="#00cdcd" stroke-width="0.85" fill="none"/>
<path d="M84.2 146.4L61.17 152.00M65.30 153.21L61.17 152.00L64.28 149.03" stroke="#a020f0" stroke-width="0.85" fill="none"/>
<path d="M84.2 146.4L62.34 153.00M66.52 153.98L62.34 153.00L65.28 149.87" stroke="#00008b" stroke-width="0.85" fill="none"/>
<path d="M84.2 146.4L63.59 154.00M67.82 154.73L63.59 154.00L66.34 150.69" stroke="#20b2aa" stroke-width="0.85" fill="none"/>
<path d="M84.2 146.4L64.92 155.00M69.19 155.45L64.92 155.00L67.44 151.52" stroke="#00cd00" stroke-width="0.85" fill="none"/>
<path d="M84.2 146.4L66.33 156.00M70.62 156.13L66.33 156.00L68.59 152.34" stroke="#ff3030" stroke-width="0.85" fill="none"/>
<path d="M84.2 146.4L64.50 138.00M67.14 141.27L64.50 138.00L68.68 137.64" stroke="#ffff00" stroke-width="0.75" fill="none"/>
<path d="M108.8 171.7L81.60 167.00M84.90 169.75L81.60 167.00L85.64 165.52" stroke="#ff00ff" stroke-width="0.85" fill="none"/>
<path d="M108.8 171.7L81.82 168.20M85.23 170.81L81.82 168.20L85.78 166.55" stroke="#00ffff" stroke-width="0.85" fill="none"/>
<path d="M108.8 171.7L82.21 169.40M85.73 171.86L82.21 169.40L86.10 167.58" stroke="#000080" stroke-width="0.85" fill="none"/>
<path d="M108.8 171.7L82.72 170.60M86.35 172.91L82.72 170.60L86.53 168.61" stroke="#9f7fff" stroke-width="0.85" fill="none"/>
<path d="M108.8 171.7L83.32 171.80M87.05 173.94L83.32 171.80L87.04 169.64" stroke="#0000ff" stroke-width="0.85" fill="none"/>
<path d="M108.8 171.7L84.00 173.00M87.84 174.95L84.00 173.00L87.61 170.66" stroke="#00cdcd" stroke-width="0.85" fill="none"/>
<path d="M108.8 171.7L84.76 174.20M88.69 175.95L84.76 174.20L88.24 171.68" stroke="#a020f0" stroke-width="0.85" fill="none"/>
<path d="M108.8 171.7L85.58 175.40M89.60 176.94L85.58 175.40L88.92 172.69" stroke="#00008b" stroke-width="0.85" fill="none"/>
<path d="M108.8 171.7L86.47 176.60M90.56 177.90L86.47 176.60L89.64 173.70" stroke="#20b2aa" stroke-width="0.85" fill="none"/>
<path d="M108.8 171.7L87.41 177.80M91.58 178.85L87.41 177.80L90.40 174.71" stroke="#00cd00" stroke-width="0.85" fill="none"/>
<path d="M108.8 171.7L88.40 179.00M92.63 179.77L88.40 179.00L91.18 175.72" stroke="#ff3030" stroke-width="0.85" fill="none"/>
<path d="M108.8 171.7L82.96 164.70M86.02 167.57L82.96 164.70L87.05 163.77" stroke="#ffff00" stroke-width="0.75" fill="none"/>
<path d="M192.2 122.8L165.30 122.17M168.97 124.40L165.30 122.17L169.07 120.11" stroke="#ff00ff" stroke-width="0.85" fill="none"/>
<path d="M192.2 122.8L165.40 122.92M169.14 125.05L165.40 122.92L169.12 120.75" stroke="#00ffff" stroke-width="0.85" fill="none"/>
<path d="M192.2 122.8L165.59 123.67M169.38 125.70L165.59 123.67L169.24 121.40" stroke="#000080" stroke-width="0.85" fill="none"/>
<path d="M192.2 122.8L165.83 124.43M169.68 126.34L165.83 124.43L169.41 122.05" stroke="#9f7fff" stroke-width="0.85" fill="none"/>
<path d="M192.2 122.8L166.12 125.18M170.02 126.98L166.12 125.18L169.63 122.70" stroke="#0000ff" stroke-width="0.85" fill="none"/>
<path d="M192.2 122.8L166.44 125.93M170.40 127.62L166.44 125.93L169.88 123.35" stroke="#00cdcd" stroke-width="0.85" fill="none"/>
<path d="M192.2 122.8L166.80 126.69M170.81 128.25L166.80 126.69L170.16 124.00" stroke="#a020f0" stroke-width="0.85" fill="none"/>
<path d="M192.2 122.8L167.19 127.44M171.24 128.87L167.19 127.44L170.46 124.65" stroke="#00008b" stroke-width="0.85" fill="none"/>
<path d="M192.2 122.8L167.61 128.19M171.71 129.50L167.61 128.19L170.79 125.30" stroke="#20b2aa" stroke-width="0.85" fill="none"/>
<path d="M192.2 122.8L168.06 128.95M172.20 130.11L168.06 128.95L171.13 125.94" stroke="#00cd00" stroke-width="0.85" fill="none"/>
<path d="M192.2 122.8L168.53 129.70M172.70 130.72L168.53 129.70L171.50 126.59" stroke="#ff3030" stroke-width="0.85" fill="none"/>
<path d="M192.2 122.8L166.65 117.20M169.85 119.92L166.65 117.20L170.69 116.07" stroke="#ffff00" stroke-width="0.75" fill="none"/>
<path d="M209.0 121.3L184.30 120.60M187.96 122.86L184.30 120.60L188.08 118.56" stroke="#ff00ff" stroke-width="0.85" fill="none"/>
<path d="M209.0 121.3L184.39 121.36M188.12 123.50L184.39 121.36L188.11 119.20" stroke="#00ffff" stroke-width="0.85" fill="none"/>
<path d="M209.0 121.3L184.57 122.12M188.36 124.15L184.57 122.12L188.21 119.85" stroke="#000080" stroke-width="0.85" fill="none"/>
<path d="M209.0 121.3L184.79 122.88M188.64 124.78L184.79 122.88L188.36 120.49" stroke="#9f7fff" stroke-width="0.85" fill="none"/>
<path d="M209.0 121.3L185.05 123.64M188.97 125.42L185.05 123.64L188.55 121.14" stroke="#0000ff" stroke-width="0.85" fill="none"/>
<path d="M209.0 121.3L185.35 124.40M189.32 126.05L185.35 124.40L188.76 121.79" stroke="#00cdcd" stroke-width="0.85" fill="none"/>
<path d="M209.0 121.3L185.68 125.16M189.70 126.67L185.68 125.16L189.00 122.43" stroke="#a020f0" stroke-width="0.85" fill="none"/>
<path d="M209.0 121.3L186.04 125.92M190.11 127.29L186.04 125.92L189.26 123.08" stroke="#00008b" stroke-width="0.85" fill="none"/>
<path d="M209.0 121.3L186.42 126.68M190.54 127.91L186.42 126.68L189.54 123.73" stroke="#20b2aa" stroke-width="0.85" fill="none"/>
<path d="M209.0 121.3L186.83 127.44M190.99 128.52L186.83 127.44L189.85 124.37" stroke="#00cd00" stroke-width="0.85" fill="none"/>
<path d="M209.0 121.3L187.26 128.20M191.46 129.12L187.26 128.20L190.16 125.02" stroke="#ff3030" stroke-width="0.85" fill="none"/>
<path d="M209.0 121.3L185.54 115.60M188.67 118.39L185.54 115.60L189.60 114.56" stroke="#ffff00" stroke-width="0.75" fill="none"/>
<path d="M219.0 148.6L190.90 148.82M194.64 150.94L190.90 148.82L194.61 146.64" stroke="#ff00ff" stroke-width="0.85" fill="none"/>
<path d="M219.0 148.6L191.01 149.45M194.79 151.49L191.01 149.45L194.66 147.19" stroke="#00ffff" stroke-width="0.85" fill="none"/>
<path d="M219.0 148.6L191.20 150.08M195.03 152.03L191.20 150.08L194.81 147.73" stroke="#000080" stroke-width="0.85" fill="none"/>
<path d="M219.0 148.6L191.45 150.71M195.33 152.57L191.45 150.71L195.00 148.28" stroke="#9f7fff" stroke-width="0.85" fill="none"/>
<path d="M219.0 148.6L191.75 151.33M195.67 153.10L191.75 151.33L195.24 148.82" stroke="#0000ff" stroke-width="0.85" fill="none"/>
<path d="M219.0 148.6L192.09 151.96M196.05 153.63L192.09 151.96L195.52 149.37" stroke="#00cdcd" stroke-width="0.85" fill="none"/>
<path d="M219.0 148.6L192.47 152.59M196.47 154.16L192.47 152.59L195.83 149.91" stroke="#a020f0" stroke-width="0.85" fill="none"/>
<path d="M219.0 148.6L192.87 153.22M196.92 154.69L192.87 153.22L196.17 150.45" stroke="#00008b" stroke-width="0.85" fill="none"/>
<path d="M219.0 148.6L193.31 153.84M197.39 155.21L193.31 153.84L196.53 150.99" stroke="#20b2aa" stroke-width="0.85" fill="none"/>
<path d="M219.0 148.6L193.78 154.47M197.89 155.72L193.78 154.47L196.92 151.53" stroke="#00cd00" stroke-width="0.85" fill="none"/>
<path d="M219.0 148.6L194.27 155.10M198.42 156.23L194.27 155.10L197.33 152.07" stroke="#ff3030" stroke-width="0.85" fill="none"/>
<path d="M219.0 148.6L192.31 144.50M195.67 147.01L192.31 144.50L196.27 143.11" stroke="#ffff00" stroke-width="0.75" fill="none"/>
<path d="M229.9 158.9L202.30 159.62M206.08 161.67L202.30 159.62L205.97 157.37" stroke="#ff00ff" stroke-width="0.85" fill="none"/>
<path d="M229.9 158.9L202.40 160.21M206.23 162.18L202.40 160.21L206.02 157.88" stroke="#00ffff" stroke-width="0.85" fill="none"/>
<path d="M229.9 158.9L202.60 160.79M206.46 162.68L202.60 160.79L206.16 158.39" stroke="#000080" stroke-width="0.85" fill="none"/>
<path d="M229.9 158.9L202.84 161.38M206.75 163.18L202.84 161.38L206.36 158.90" stroke="#9f7fff" stroke-width="0.85" fill="none"/>
<path d="M229.9 158.9L203.14 161.97M207.08 163.68L203.14 161.97L206.59 159.41" stroke="#0000ff" stroke-width="0.85" fill="none"/>
<path d="M229.9 158.9L203.47 162.56M207.45 164.18L203.47 162.56L206.86 159.92" stroke="#00cdcd" stroke-width="0.85" fill="none"/>
<path d="M229.9 158.9L203.84 163.15M207.86 164.67L203.84 163.15L207.17 160.43" stroke="#a020f0" stroke-width="0.85" fill="none"/>
<path d="M229.9 158.9L204.24 163.74M208.30 165.16L204.24 163.74L207.50 160.93" stroke="#00008b" stroke-width="0.85" fill="none"/>
<path d="M229.9 158.9L204.67 164.32M208.76 165.64L204.67 164.32L207.86 161.44" stroke="#20b2aa" stroke-width="0.85" fill="none"/>
<path d="M229.9 158.9L205.13 164.91M209.25 166.12L205.13 164.91L208.24 161.94" stroke="#00cd00" stroke-width="0.85" fill="none"/>
<path d="M229.9 158.9L205.61 165.50M209.77 166.60L205.61 165.50L208.64 162.45" stroke="#ff3030" stroke-width="0.85" fill="none"/>
<path d="M229.9 158.9L203.68 155.50M207.10 157.93L203.68 155.50L207.61 154.02" stroke="#ffff00" stroke-width="0.75" fill="none"/>
<path d="M267.8 168.5L240.50 166.97M244.10 169.33L240.50 166.97L244.34 165.03" stroke="#ff00ff" stroke-width="0.85" fill="none"/>
<path d="M267.8 168.5L240.60 167.43M244.24 169.73L240.60 167.43L244.41 165.43" stroke="#00ffff" stroke-width="0.85" fill="none"/>
<path d="M267.8 168.5L240.79 167.90M244.47 170.13L240.79 167.90L244.56 165.83" stroke="#000080" stroke-width="0.85" fill="none"/>
<path d="M267.8 168.5L241.04 168.36M244.75 170.53L241.04 168.36L244.77 166.23" stroke="#9f7fff" stroke-width="0.85" fill="none"/>
<path d="M267.8 168.5L241.33 168.82M245.08 170.93L241.33 168.82L245.03 166.63" stroke="#0000ff" stroke-width="0.85" fill="none"/>
<path d="M267.8 168.5L241.66 169.29M245.45 171.32L241.66 169.29L245.32 167.03" stroke="#00cdcd" stroke-width="0.85" fill="none"/>
<path d="M267.8 168.5L242.02 169.75M245.85 171.72L242.02 169.75L245.64 167.42" stroke="#a020f0" stroke-width="0.85" fill="none"/>
<path d="M267.8 168.5L242.42 170.21M246.28 172.11L242.42 170.21L245.99 167.82" stroke="#00008b" stroke-width="0.85" fill="none"/>
<path d="M267.8 168.5L242.84 170.67M246.74 172.49L242.84 170.67L246.37 168.21" stroke="#20b2aa" stroke-width="0.85" fill="none"/>
<path d="M267.8 168.5L243.30 171.14M247.23 172.88L243.30 171.14L246.77 168.60" stroke="#00cd00" stroke-width="0.85" fill="none"/>
<path d="M267.8 168.5L243.78 171.60M247.74 173.26L243.78 171.60L247.19 168.99" stroke="#ff3030" stroke-width="0.85" fill="none"/>
<path d="M267.8 168.5L241.87 163.50M245.13 166.14L241.87 163.50L245.88 162.27" stroke="#ffff00" stroke-width="0.75" fill="none"/>
<path d="M244.7 181.3L217.20 181.22M220.92 183.38L217.20 181.22L220.93 179.08" stroke="#ff00ff" stroke-width="0.85" fill="none"/>
<path d="M244.7 181.3L217.30 181.85M221.07 183.92L217.30 181.85L220.98 179.63" stroke="#00ffff" stroke-width="0.85" fill="none"/>
<path d="M244.7 181.3L217.50 182.48M221.31 184.46L217.50 182.48L221.12 180.17" stroke="#000080" stroke-width="0.85" fill="none"/>
<path d="M244.7 181.3L217.74 183.11M221.60 185.00L217.74 183.11L221.31 180.71" stroke="#9f7fff" stroke-width="0.85" fill="none"/>
<path d="M244.7 181.3L218.03 183.73M221.94 185.54L218.03 183.73L221.55 181.25" stroke="#0000ff" stroke-width="0.85" fill="none"/>
<path d="M244.7 181.3L218.37 184.36M222.31 186.07L218.37 184.36L221.82 181.80" stroke="#00cdcd" stroke-width="0.85" fill="none"/>
<path d="M244.7 181.3L218.73 184.99M222.72 186.59L218.73 184.99L222.12 182.34" stroke="#a020f0" stroke-width="0.85" fill="none"/>
<path d="M244.7 181.3L219.13 185.62M223.16 187.12L219.13 185.62L222.45 182.88" stroke="#00008b" stroke-width="0.85" fill="none"/>
<path d="M244.7 181.3L219.56 186.24M223.63 187.64L219.56 186.24L222.80 183.42" stroke="#20b2aa" stroke-width="0.85" fill="none"/>
<path d="M244.7 181.3L220.02 186.87M224.12 188.15L220.02 186.87L223.18 183.95" stroke="#00cd00" stroke-width="0.85" fill="none"/>
<path d="M244.7 181.3L220.50 187.50M224.64 188.66L220.50 187.50L223.57 184.49" stroke="#ff3030" stroke-width="0.85" fill="none"/>
<path d="M244.7 181.3L218.57 176.90M221.90 179.46L218.57 176.90L222.56 175.57" stroke="#ffff00" stroke-width="0.75" fill="none"/>
<path d="M322.1 183.7L295.20 184.28M298.97 186.35L295.20 184.28L298.88 182.05" stroke="#ff00ff" stroke-width="0.85" fill="none"/>
<path d="M322.1 183.7L295.30 184.80M299.11 186.80L295.30 184.80L298.93 182.50" stroke="#00ffff" stroke-width="0.85" fill="none"/>
<path d="M322.1 183.7L295.49 185.32M299.34 187.24L295.49 185.32L299.07 182.95" stroke="#000080" stroke-width="0.85" fill="none"/>
<path d="M322.1 183.7L295.73 185.84M299.62 187.69L295.73 185.84L299.27 183.40" stroke="#9f7fff" stroke-width="0.85" fill="none"/>
<path d="M322.1 183.7L296.02 186.37M299.94 188.13L296.02 186.37L299.50 183.85" stroke="#0000ff" stroke-width="0.85" fill="none"/>
<path d="M322.1 183.7L296.34 186.89M300.30 188.57L296.34 186.89L299.77 184.30" stroke="#00cdcd" stroke-width="0.85" fill="none"/>
<path d="M322.1 183.7L296.70 187.41M300.70 189.00L296.70 187.41L300.07 184.75" stroke="#a020f0" stroke-width="0.85" fill="none"/>
<path d="M322.1 183.7L297.09 187.93M301.12 189.43L297.09 187.93L300.40 185.19" stroke="#00008b" stroke-width="0.85" fill="none"/>
<path d="M322.1 183.7L297.51 188.46M301.57 189.86L297.51 188.46L300.76 185.64" stroke="#20b2aa" stroke-width="0.85" fill="none"/>
<path d="M322.1 183.7L297.96 188.98M302.05 190.28L297.96 188.98L301.13 186.08" stroke="#00cd00" stroke-width="0.85" fill="none"/>
<path d="M322.1 183.7L298.43 189.50M302.56 190.70L298.43 189.50L301.53 186.53" stroke="#ff3030" stroke-width="0.85" fill="none"/>
<path d="M322.1 183.7L296.55 180.50M299.98 182.92L296.55 180.50L300.47 179.00" stroke="#ffff00" stroke-width="0.75" fill="none"/>
<path d="M166.0 176.0L133.30 176.31M137.04 178.43L133.30 176.31L137.00 174.13" stroke="#ff00ff" stroke-width="0.85" fill="none"/>
<path d="M166.0 176.0L133.42 177.19M137.22 179.20L133.42 177.19L137.07 174.91" stroke="#00ffff" stroke-width="0.85" fill="none"/>
<path d="M166.0 176.0L133.65 178.07M137.50 179.98L133.65 178.07L137.23 175.69" stroke="#000080" stroke-width="0.85" fill="none"/>
<path d="M166.0 176.0L133.94 178.95M137.85 180.75L133.94 178.95L137.46 176.47" stroke="#9f7fff" stroke-width="0.85" fill="none"/>
<path d="M166.0 176.0L134.29 179.83M138.25 181.52L134.29 179.83L137.73 177.25" stroke="#0000ff" stroke-width="0.85" fill="none"/>
<path d="M166.0 176.0L134.69 180.71M138.69 182.28L134.69 180.71L138.05 178.03" stroke="#00cdcd" stroke-width="0.85" fill="none"/>
<path d="M166.0 176.0L135.12 181.59M139.17 183.04L135.12 181.59L138.41 178.81" stroke="#a020f0" stroke-width="0.85" fill="none"/>
<path d="M166.0 176.0L135.60 182.46M139.69 183.79L135.60 182.46L138.79 179.59" stroke="#00008b" stroke-width="0.85" fill="none"/>
<path d="M166.0 176.0L136.11 183.34M140.24 184.54L136.11 183.34L139.21 180.37" stroke="#20b2aa" stroke-width="0.85" fill="none"/>
<path d="M166.0 176.0L136.65 184.22M140.82 185.29L136.65 184.22L139.66 181.15" stroke="#00cd00" stroke-width="0.85" fill="none"/>
<path d="M166.0 176.0L137.22 185.10M141.42 186.03L137.22 185.10L140.13 181.93" stroke="#ff3030" stroke-width="0.85" fill="none"/>
<path d="M166.0 176.0L134.94 170.70M138.26 173.27L134.94 170.70L138.92 169.38" stroke="#ffff00" stroke-width="0.75" fill="none"/>
<path d="M161.3 178.6L134.00 177.76M137.66 180.02L134.00 177.76L137.79 175.73" stroke="#ff00ff" stroke-width="0.85" fill="none"/>
<path d="M161.3 178.6L134.10 178.43M137.81 180.61L134.10 178.43L137.84 176.31" stroke="#00ffff" stroke-width="0.85" fill="none"/>
<path d="M161.3 178.6L134.29 179.11M138.06 181.19L134.29 179.11L137.98 176.89" stroke="#000080" stroke-width="0.85" fill="none"/>
<path d="M161.3 178.6L134.54 179.78M138.35 181.77L134.54 179.78L138.16 177.47" stroke="#9f7fff" stroke-width="0.85" fill="none"/>
<path d="M161.3 178.6L134.83 180.46M138.69 182.34L134.83 180.46L138.39 178.05" stroke="#0000ff" stroke-width="0.85" fill="none"/>
<path d="M161.3 178.6L135.16 181.13M139.07 182.91L135.16 181.13L138.66 178.63" stroke="#00cdcd" stroke-width="0.85" fill="none"/>
<path d="M161.3 178.6L135.52 181.80M139.48 183.48L135.52 181.80L138.95 179.21" stroke="#a020f0" stroke-width="0.85" fill="none"/>
<path d="M161.3 178.6L135.92 182.48M139.92 184.04L135.92 182.48L139.28 179.79" stroke="#00008b" stroke-width="0.85" fill="none"/>
<path d="M161.3 178.6L136.34 183.15M140.39 184.60L136.34 183.15L139.62 180.37" stroke="#20b2aa" stroke-width="0.85" fill="none"/>
<path d="M161.3 178.6L136.80 183.83M140.89 185.15L136.80 183.83L139.99 180.95" stroke="#00cd00" stroke-width="0.85" fill="none"/>
<path d="M161.3 178.6L137.28 184.50M141.41 185.70L137.28 184.50L140.38 181.52" stroke="#ff3030" stroke-width="0.85" fill="none"/>
<path d="M161.3 178.6L135.37 173.20M138.59 175.89L135.37 173.20L139.40 172.03" stroke="#ffff00" stroke-width="0.75" fill="none"/>
<path d="M186.6 178.6L158.00 181.76M161.94 183.49L158.00 181.76L161.47 179.21" stroke="#ff00ff" stroke-width="0.85" fill="none"/>
<path d="M186.6 178.6L158.11 182.43M162.09 184.07L158.11 182.43L161.51 179.81" stroke="#00ffff" stroke-width="0.85" fill="none"/>
<path d="M186.6 178.6L158.31 183.11M162.32 184.65L158.31 183.11L161.65 180.40" stroke="#000080" stroke-width="0.85" fill="none"/>
<path d="M186.6 178.6L158.56 183.78M162.62 185.22L158.56 183.78L161.84 180.99" stroke="#9f7fff" stroke-width="0.85" fill="none"/>
<path d="M186.6 178.6L158.87 184.46M162.96 185.79L158.87 184.46L162.07 181.58" stroke="#0000ff" stroke-width="0.85" fill="none"/>
<path d="M186.6 178.6L159.21 185.13M163.33 186.36L159.21 185.13L162.34 182.17" stroke="#00cdcd" stroke-width="0.85" fill="none"/>
<path d="M186.6 178.6L159.60 185.80M163.75 186.92L159.60 185.80L162.64 182.77" stroke="#a020f0" stroke-width="0.85" fill="none"/>
<path d="M186.6 178.6L160.01 186.48M164.19 187.48L160.01 186.48L162.97 183.36" stroke="#00008b" stroke-width="0.85" fill="none"/>
<path d="M186.6 178.6L160.46 187.15M164.66 188.04L160.46 187.15L163.33 183.95" stroke="#20b2aa" stroke-width="0.85" fill="none"/>
<path d="M186.6 178.6L160.93 187.83M165.16 188.59L160.93 187.83L163.71 184.54" stroke="#00cd00" stroke-width="0.85" fill="none"/>
<path d="M186.6 178.6L161.43 188.50M165.68 189.14L161.43 188.50L164.11 185.14" stroke="#ff3030" stroke-width="0.85" fill="none"/>
<path d="M186.6 178.6L159.43 177.20M163.03 179.36L159.43 177.20L163.23 175.42" stroke="#ffff00" stroke-width="0.75" fill="none"/>
<path d="M185.2 184.0L157.60 185.18M161.41 187.17L157.60 185.18L161.23 182.87" stroke="#ff00ff" stroke-width="0.85" fill="none"/>
<path d="M185.2 184.0L157.70 185.74M161.56 187.65L157.70 185.74L161.29 183.36" stroke="#00ffff" stroke-width="0.85" fill="none"/>
<path d="M185.2 184.0L157.90 186.31M161.79 188.13L157.90 186.31L161.43 183.85" stroke="#000080" stroke-width="0.85" fill="none"/>
<path d="M185.2 184.0L158.14 186.87M162.07 188.61L158.14 186.87L161.62 184.34" stroke="#9f7fff" stroke-width="0.85" fill="none"/>
<path d="M185.2 184.0L158.44 187.43M162.40 189.09L158.44 187.43L161.86 184.82" stroke="#0000ff" stroke-width="0.85" fill="none"/>
<path d="M185.2 184.0L158.77 187.99M162.77 189.56L158.77 187.99L162.13 185.31" stroke="#00cdcd" stroke-width="0.85" fill="none"/>
<path d="M185.2 184.0L159.14 188.55M163.18 190.03L159.14 188.55L162.44 185.79" stroke="#a020f0" stroke-width="0.85" fill="none"/>
<path d="M185.2 184.0L159.54 189.11M163.61 190.50L159.54 189.11L162.77 186.28" stroke="#00008b" stroke-width="0.85" fill="none"/>
<path d="M185.2 184.0L159.97 189.68M164.07 190.96L159.97 189.68L163.13 186.76" stroke="#20b2aa" stroke-width="0.85" fill="none"/>
<path d="M185.2 184.0L160.43 190.24M164.56 191.41L160.43 190.24L163.51 187.24" stroke="#00cd00" stroke-width="0.85" fill="none"/>
<path d="M185.2 184.0L160.91 190.80M165.08 191.87L160.91 190.80L163.92 187.73" stroke="#ff3030" stroke-width="0.85" fill="none"/>
<path d="M185.2 184.0L158.98 181.20M162.46 183.55L158.98 181.20L162.88 179.63" stroke="#ffff00" stroke-width="0.75" fill="none"/>
<path d="M153.3 48.9L173.7 39.3M168.72 38.88L173.70 39.30L170.85 43.41" stroke="#000" stroke-width="0.9" fill="none"/>
<path d="M184.0 58.6L190.0 45.5M185.92 48.40L190.00 45.50L190.47 50.48" stroke="#000" stroke-width="0.9" fill="none"/>
<path d="M216.6 47.2L225.5 33.9M221.01 36.11L225.50 33.90L225.17 38.89" stroke="#000" stroke-width="0.9" fill="none"/>
<path d="M279.9 79.7L285.0 66.4M281.12 69.55L285.00 66.40L285.78 71.34" stroke="#000" stroke-width="0.9" fill="none"/>
<path d="M335.0 77.8L331.2 65.4M330.08 70.27L331.20 65.40L334.86 68.81" stroke="#000" stroke-width="0.9" fill="none"/>
<path d="M302.0 98.0L303.7 85.3M300.65 89.26L303.70 85.30L305.60 89.92" stroke="#000" stroke-width="0.9" fill="none"/>
<path d="M299.2 107.2L303.0 86.0M299.78 89.82L303.00 86.00L304.70 90.70" stroke="#000" stroke-width="0.9" fill="none"/>
<path d="M317.3 99.0L322.7 86.7M318.67 89.66L322.70 86.70L323.25 91.67" stroke="#000" stroke-width="0.9" fill="none"/>
<path d="M332.2 107.8L334.5 95.5M331.25 99.30L334.50 95.50L336.16 100.22" stroke="#000" stroke-width="0.9" fill="none"/>
<path d="M342.5 104.0L347.9 91.4M343.90 94.40L347.90 91.40L348.49 96.36" stroke="#000" stroke-width="0.9" fill="none"/>
<path d="M336.5 115.5L340.5 106.0M336.52 109.02L340.50 106.00L341.12 110.96" stroke="#000" stroke-width="0.9" fill="none"/>
<path d="M339.0 119.5L344.0 109.0M339.88 111.83L344.00 109.00L344.40 113.98" stroke="#000" stroke-width="0.9" fill="none"/>
<path d="M357.0 115.5L360.3 103.8M356.72 107.29L360.30 103.80L361.53 108.65" stroke="#000" stroke-width="0.9" fill="none"/>
<path d="M355.6 121.7L359.9 109.5M356.10 112.75L359.90 109.50L360.82 114.41" stroke="#000" stroke-width="0.9" fill="none"/>
<path d="M357.6 129.2L360.3 116.6M356.95 120.31L360.30 116.60L361.84 121.36" stroke="#000" stroke-width="0.9" fill="none"/>
<path d="M322.5 135.1L327.1 124.5M323.08 127.48L327.10 124.50L327.67 129.47" stroke="#000" stroke-width="0.9" fill="none"/>
<path d="M370.8 134.5L374.8 122.2M371.08 125.54L374.80 122.20L375.84 127.09" stroke="#000" stroke-width="0.9" fill="none"/>
<path d="M369.0 150.3L376.6 137.9M372.21 140.29L376.60 137.90L376.47 142.90" stroke="#000" stroke-width="0.9" fill="none"/>
<path d="M408.5 154.7L411.9 141.3M408.41 144.88L411.90 141.30L413.26 146.11" stroke="#000" stroke-width="0.9" fill="none"/>
<path d="M444.7 142.8L457.1 130.8M452.25 132.01L457.10 130.80L455.73 135.61" stroke="#000" stroke-width="0.9" fill="none"/>
<path d="M124.7 89.9L128.8 77.3M125.08 80.64L128.80 77.30L129.84 82.19" stroke="#000" stroke-width="0.9" fill="none"/>
<path d="M139.0 96.0L143.3 83.4M139.54 86.69L143.30 83.40L144.27 88.31" stroke="#000" stroke-width="0.9" fill="none"/>
<path d="M146.3 102.7L149.4 90.2M145.93 93.80L149.40 90.20L150.78 95.00" stroke="#000" stroke-width="0.9" fill="none"/>
<path d="M146.3 114.5L150.5 102.0M146.75 105.31L150.50 102.00L151.49 106.90" stroke="#000" stroke-width="0.9" fill="none"/>
<path d="M123.8 119.7L126.1 107.4M122.85 111.20L126.10 107.40L127.76 112.12" stroke="#000" stroke-width="0.9" fill="none"/>
<path d="M146.1 134.3L148.0 121.6M144.89 125.51L148.00 121.60L149.83 126.25" stroke="#000" stroke-width="0.9" fill="none"/>
<path d="M85.6 127.4L90.3 114.9M86.44 118.07L90.30 114.90L91.12 119.83" stroke="#000" stroke-width="0.9" fill="none"/>
<path d="M84.2 146.4L91.6 134.4M87.20 136.77L91.60 134.40L91.46 139.40" stroke="#000" stroke-width="0.9" fill="none"/>
<path d="M108.8 171.7L119.2 158.8M114.54 160.60L119.20 158.80L118.43 163.74" stroke="#000" stroke-width="0.9" fill="none"/>
<path d="M192.2 122.8L196.5 110.3M192.73 113.58L196.50 110.30L197.46 115.21" stroke="#000" stroke-width="0.9" fill="none"/>
<path d="M209.0 121.3L213.2 108.4M209.48 111.74L213.20 108.40L214.24 113.29" stroke="#000" stroke-width="0.9" fill="none"/>
<path d="M219.0 148.6L224.7 136.1M220.63 139.00L224.70 136.10L225.18 141.08" stroke="#000" stroke-width="0.9" fill="none"/>
<path d="M229.9 158.9L236.1 146.2M231.95 148.99L236.10 146.20L236.45 151.19" stroke="#000" stroke-width="0.9" fill="none"/>
<path d="M267.8 168.5L274.7 155.5M270.46 158.15L274.70 155.50L274.88 160.50" stroke="#000" stroke-width="0.9" fill="none"/>
<path d="M244.7 181.3L252.4 169.7M247.92 171.93L252.40 169.70L252.09 174.69" stroke="#000" stroke-width="0.9" fill="none"/>
<path d="M322.1 183.7L334.7 172.0M329.83 173.11L334.70 172.00L333.23 176.78" stroke="#000" stroke-width="0.9" fill="none"/>
<path d="M166.0 176.0L171.0 163.6M167.06 166.68L171.00 163.60L171.70 168.55" stroke="#000" stroke-width="0.9" fill="none"/>
<path d="M161.3 178.6L166.0 166.0M162.14 169.18L166.00 166.00L166.83 170.93" stroke="#000" stroke-width="0.9" fill="none"/>
<path d="M186.6 178.6L192.6 166.0M188.48 168.83L192.60 166.00L193.00 170.98" stroke="#000" stroke-width="0.9" fill="none"/>
<path d="M185.2 184.0L189.9 170.0M186.15 173.31L189.90 170.00L190.89 174.90" stroke="#000" stroke-width="0.9" fill="none"/>
<path d="M150.90 46.50L155.70 51.30M150.90 51.30L155.70 46.50" stroke="#ff0000" stroke-width="1.1"/>
<circle cx="184.0" cy="58.6" r="2.3" fill="none" stroke="#ff0000" stroke-width="1.1"/>
<circle cx="216.6" cy="47.2" r="2.3" fill="none" stroke="#ff0000" stroke-width="1.1"/>
<path d="M277.30 79.7H282.50M279.9 77.10V82.30" stroke="#ff0000" stroke-width="1"/>
<path d="M332.40 77.8H337.60M335.0 75.20V80.40" stroke="#ff0000" stroke-width="1"/>
<path d="M299.40 98.0H304.60M302.0 95.40V100.60" stroke="#ff0000" stroke-width="1"/>
<path d="M296.80 104.80L301.60 109.60M296.80 109.60L301.60 104.80" stroke="#ff0000" stroke-width="1.1"/>
<circle cx="317.3" cy="99.0" r="2.3" fill="none" stroke="#ff0000" stroke-width="1.1"/>
<path d="M329.60 107.8H334.80M332.2 105.20V110.40" stroke="#ff0000" stroke-width="1"/>
<path d="M340.10 101.60L344.90 106.40M340.10 106.40L344.90 101.60" stroke="#ff0000" stroke-width="1.1"/>
<path d="M333.50 117.30L339.50 117.30L336.50 112.50Z" fill="none" stroke="#ff0000" stroke-width="1.2"/>
<circle cx="339.0" cy="119.5" r="2.3" fill="none" stroke="#ff0000" stroke-width="1.1"/>
<circle cx="357.0" cy="115.5" r="2.3" fill="none" stroke="#ff0000" stroke-width="1.1"/>
<path d="M352.60 123.50L358.60 123.50L355.60 118.70Z" fill="none" stroke="#ff0000" stroke-width="1.2"/>
<circle cx="357.6" cy="129.2" r="2.3" fill="none" stroke="#ff0000" stroke-width="1.1"/>
<path d="M319.50 136.90L325.50 136.90L322.50 132.10Z" fill="none" stroke="#ff0000" stroke-width="1.2"/>
<path d="M368.40 132.10L373.20 136.90M368.40 136.90L373.20 132.10" stroke="#ff0000" stroke-width="1.1"/>
<path d="M366.00 152.10L372.00 152.10L369.00 147.30Z" fill="none" stroke="#ff0000" stroke-width="1.2"/>
<circle cx="408.5" cy="154.7" r="2.3" fill="none" stroke="#ff0000" stroke-width="1.1"/>
<path d="M441.70 142.8L444.7 139.80L447.70 142.8L444.7 145.80Z" fill="none" stroke="#ff0000" stroke-width="1.1"/>
<circle cx="124.7" cy="89.9" r="2.3" fill="none" stroke="#000000" stroke-width="1.1"/>
<circle cx="139.0" cy="96.0" r="2.3" fill="none" stroke="#000000" stroke-width="1.1"/>
<circle cx="146.3" cy="102.7" r="2.3" fill="none" stroke="#000000" stroke-width="1.1"/>
<path d="M143.30 114.5L146.3 111.50L149.30 114.5L146.3 117.50Z" fill="none" stroke="#000000" stroke-width="1.1"/>
<path d="M121.20 119.7H126.40M123.8 117.10V122.30" stroke="#000000" stroke-width="1"/>
<path d="M143.10 134.3L146.1 131.30L149.10 134.3L146.1 137.30Z" fill="none" stroke="#000000" stroke-width="1.1"/>
<path d="M82.60 129.20L88.60 129.20L85.60 124.40Z" fill="none" stroke="#000000" stroke-width="1.2"/>
<path d="M81.20 148.20L87.20 148.20L84.20 143.40Z" fill="none" stroke="#000000" stroke-width="1.2"/>
<path d="M105.80 173.50L111.80 173.50L108.80 168.70Z" fill="none" stroke="#000000" stroke-width="1.2"/>
<circle cx="192.2" cy="122.8" r="2.3" fill="none" stroke="#000000" stroke-width="1.1"/>
<path d="M206.60 118.90L211.40 123.70M206.60 123.70L211.40 118.90" stroke="#000000" stroke-width="1.1"/>
<path d="M216.60 146.20L221.40 151.00M216.60 151.00L221.40 146.20" stroke="#000000" stroke-width="1.1"/>
<circle cx="229.9" cy="158.9" r="2.3" fill="none" stroke="#000000" stroke-width="1.1"/>
<path d="M265.40 166.10L270.20 170.90M265.40 170.90L270.20 166.10" stroke="#000000" stroke-width="1.1"/>
<path d="M241.70 181.3L244.7 178.30L247.70 181.3L244.7 184.30Z" fill="none" stroke="#000000" stroke-width="1.1"/>
<path d="M319.70 181.30L324.50 186.10M319.70 186.10L324.50 181.30" stroke="#000000" stroke-width="1.1"/>
<path d="M163.00 177.80L169.00 177.80L166.00 173.00Z" fill="none" stroke="#000000" stroke-width="1.2"/>
<path d="M158.70 178.6H163.90M161.3 176.00V181.20" stroke="#000000" stroke-width="1"/>
<path d="M184.00 178.6H189.20M186.6 176.00V181.20" stroke="#000000" stroke-width="1"/>
<path d="M182.60 184.0H187.80M185.2 181.40V186.60" stroke="#000000" stroke-width="1"/>
<rect x="34.5" y="25.5" width="483" height="202" fill="none" stroke="#333" stroke-width="1"/>
<path d="M136.3 227.5V233M247.9 227.5V233M359.5 227.5V233M471.1 227.5V233" stroke="#333" stroke-width="1"/>
<path d="M29 206.9H34.5M29 180.1H34.5M29 153.3H34.5M29 126.5H34.5M29 99.7H34.5M29 72.9H34.5M29 46.1H34.5" stroke="#333" stroke-width="1"/>
<rect x="526.5" y="25.5" width="38.3" height="43" fill="none" stroke="#333" stroke-width="1"/>
<circle cx="534.5" cy="46.9" r="2.2" fill="#000"/>
<circle cx="534.5" cy="58.7" r="2.2" fill="#ff1030"/>
<rect x="527.5" y="88.5" width="37" height="76" fill="none" stroke="#333" stroke-width="1"/>
<circle cx="536.6" cy="110.4" r="2.3" fill="none" stroke="#000" stroke-width="0.8"/>
<path d="M533.60 122.70L539.60 122.70L536.60 117.90Z" fill="none" stroke="#000" stroke-width="1.2"/>
<path d="M534.00 132.0H539.20M536.6 129.40V134.60" stroke="#000" stroke-width="0.8"/>
<path d="M534.20 140.60L539.00 145.40M534.20 145.40L539.00 140.60" stroke="#000" stroke-width="0.8"/>
<path d="M533.60 153.9L536.6 150.90L539.60 153.9L536.6 156.90Z" fill="none" stroke="#000" stroke-width="0.8"/>
</g>
<g filter="url(#gs)">
<text x="136.3" y="244" text-anchor="middle" class="tk">-2</text>
<text x="247.9" y="244" text-anchor="middle" class="tk">0</text>
<text x="359.5" y="244" text-anchor="middle" class="tk">2</text>
<text x="471.1" y="244" text-anchor="middle" class="tk">4</text>
<text transform="translate(25.5 207.7) rotate(-90)" text-anchor="middle" class="tk">-3</text>
<text transform="translate(25.5 180.9) rotate(-90)" text-anchor="middle" class="tk">-2</text>
<text transform="translate(25.5 154.1) rotate(-90)" text-anchor="middle" class="tk">-1</text>
<text transform="translate(25.5 127.3) rotate(-90)" text-anchor="middle" class="tk">0</text>
<text transform="translate(25.5 100.5) rotate(-90)" text-anchor="middle" class="tk">1</text>
<text transform="translate(25.5 73.7) rotate(-90)" text-anchor="middle" class="tk">2</text>
<text transform="translate(25.5 46.9) rotate(-90)" text-anchor="middle" class="tk">3</text>
<text x="276.2" y="260.6" text-anchor="middle" class="xl">1st Principal Component</text>
<text transform="translate(7 126.2) rotate(-90)" text-anchor="middle" class="yl">2nd Principal Component</text>
<text x="275.5" y="6.6" text-anchor="middle" class="b">Kernel PCA</text>
<text x="529.5" y="35.8" class="t">Factor 1</text>
<text x="542" y="50" class="t">wt</text>
<text x="542" y="61.8" class="t">ppar</text>
<text x="530.5" y="99.5" class="t">Factor 2</text>
<text x="545.7" y="113.4" class="t">coc</text>
<text x="545.7" y="123.9" class="t">fish</text>
<text x="545.7" y="135.0" class="t">lin</text>
<text x="545.7" y="146.0" class="t">ref</text>
<text x="545.7" y="156.9" class="t">sun</text>
</g>
</svg>
</body></html>
